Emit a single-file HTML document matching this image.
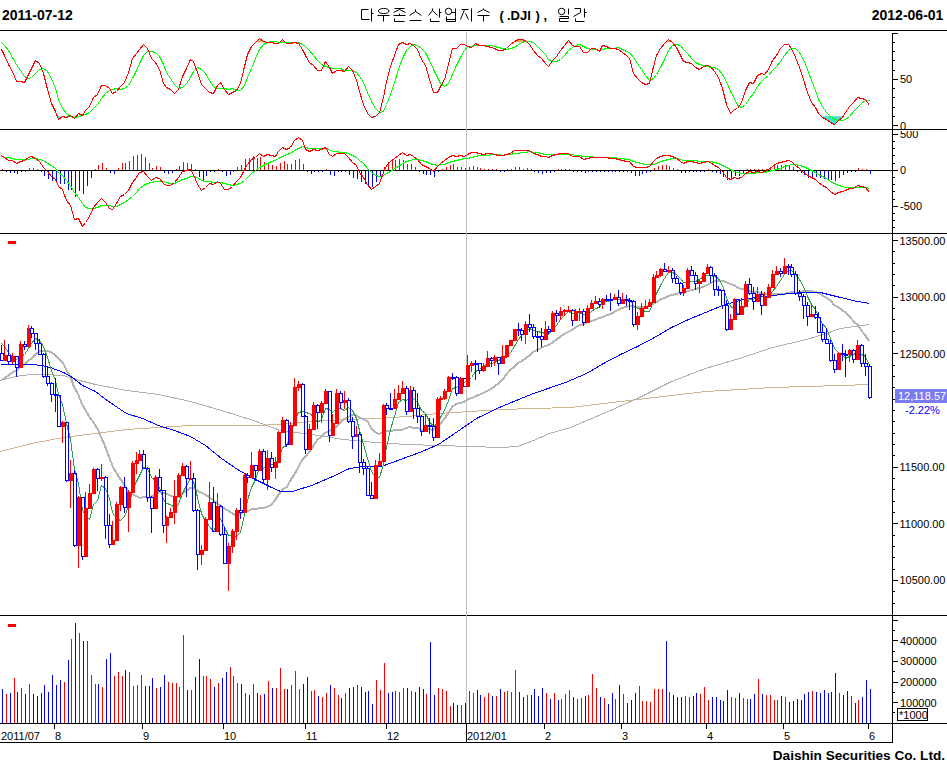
<!DOCTYPE html><html><head><meta charset="utf-8"><style>
html,body{margin:0;padding:0;background:#fff;}
svg{display:block;font-family:"Liberation Sans",sans-serif;}
</style></head><body><svg width="947" height="767" viewBox="0 0 947 767" shape-rendering="crispEdges">
<rect width="947" height="767" fill="#fff"/>
<line x1="0" y1="30.5" x2="947" y2="30.5" stroke="#000" stroke-width="1" /><line x1="0" y1="129.5" x2="947" y2="129.5" stroke="#000" stroke-width="1" /><line x1="0" y1="233.5" x2="947" y2="233.5" stroke="#000" stroke-width="1" /><line x1="0" y1="615.5" x2="947" y2="615.5" stroke="#000" stroke-width="1" /><line x1="0" y1="723.5" x2="947" y2="723.5" stroke="#000" stroke-width="1" /><line x1="0" y1="742.5" x2="892.5" y2="742.5" stroke="#000" stroke-width="1" /><line x1="892.5" y1="33" x2="892.5" y2="743" stroke="#000" stroke-width="1" /><line x1="466.5" y1="32" x2="466.5" y2="723" stroke="#c0c0c0" stroke-width="1" /><text x="2" y="20" font-size="14" fill="#000" text-anchor="start" font-weight="bold" >2011-07-12</text><text x="943.4" y="20" font-size="14" fill="#000" text-anchor="end" font-weight="bold" >2012-06-01</text><text x="945" y="759.5" font-size="13.6" fill="#000" text-anchor="end" font-weight="bold" >Daishin Securities Co. Ltd.</text><polyline points="0.5,451.5 31.5,443.5 63.5,437.5 95.5,433.5 126.5,429.5 158.5,427.5 190.5,425.5 221.5,425.5 253.5,425.5 280.5,424.5 311.5,421.5 343.5,419.5 375.5,418.5 406.5,416.5 438.5,413.5 470.5,411.5 501.5,409.5 533.5,408.5 570.5,407.5 603.5,403.5 637.5,399.5 671.5,395.5 705.5,391.5 739.5,389.5 772.5,387.5 806.5,386.5 840.5,385.5 869.5,384.5" fill="none" stroke="#d2b48c" stroke-width="1" shape-rendering="crispEdges" stroke-linejoin="round" /><polyline points="0.5,380.5 15.5,376.5 31.5,374.5 41.5,374.5 63.5,375.5 79.5,380.5 95.5,384.5 126.5,390.5 158.5,394.5 190.5,401.5 221.5,410.5 253.5,420.5 280.5,430.5 311.5,434.5 343.5,439.5 375.5,442.5 406.5,444.5 438.5,445.5 470.5,446.5 501.5,447.5 517.5,446.5 533.5,440.5 549.5,433.5 570.5,427.5 603.5,413.5 637.5,398.5 671.5,381.5 705.5,368.5 739.5,358.5 772.5,347.5 806.5,339.5 823.5,334.5 840.5,328.5 869.5,324.5" fill="none" stroke="#b0b0b0" stroke-width="1" shape-rendering="crispEdges" stroke-linejoin="round" /><polyline points="1,380 5,378 9,375 13,372 17,370 20,367 24,365 28,361 32,358 36,354 40,351 44,351 47,351 51,352 55,355 59,359 63,363 67,371 71,378 74,387 78,394 82,404 86,411 90,418 94,423 98,430 101,437 105,446 109,457 113,467 117,474 121,480 125,486 128,491 132,494 136,496 140,498 144,497 148,498 152,496 155,495 159,492 163,493 167,494 171,496 175,497 179,497 182,494 186,491 190,488 194,488 198,491 202,493 206,495 209,497 213,500 217,503 221,506 225,509 229,511 233,514 236,515 240,514 244,512 248,511 252,509 256,509 260,508 263,508 267,507 271,505 275,500 279,494 283,489 287,487 290,481 294,475 298,468 302,460 306,456 310,451 314,445 317,440 321,437 325,433 329,431 333,429 337,426 341,422 344,419 348,417 352,415 356,415 360,418 364,419 368,422 371,428 375,432 379,434 383,432 387,431 391,431 395,430 398,430 402,430 406,428 410,427 414,428 418,428 422,430 425,430 429,429 433,430 437,426 441,423 445,418 449,412 452,407 456,404 460,403 464,402 468,399 472,398 476,396 479,395 483,393 487,391 491,389 495,386 499,383 503,379 506,375 510,370 514,367 518,363 522,361 526,358 530,355 533,352 537,350 541,348 545,346 549,345 553,342 557,339 560,337 564,334 568,332 572,330 576,327 580,325 584,324 587,322 591,321 595,320 599,318 603,317 607,315 611,314 614,312 618,310 622,308 626,307 630,306 634,307 638,307 641,307 645,307 649,306 653,304 657,302 661,299 665,298 668,296 672,295 676,294 680,293 684,293 688,291 692,290 696,289 699,288 703,287 707,285 711,283 715,281 719,281 723,281 726,282 730,284 734,285 738,288 742,289 746,290 750,291 753,292 757,292 761,293 765,294 769,295 773,294 777,294 780,294 784,294 788,293 792,292 796,293 800,292 804,291 807,291 811,291 815,292 819,293 823,296 827,298 831,301 834,305 838,307 842,310 846,313 850,317 854,322 858,325 861,330 865,335 869,341" fill="none" stroke="#b4b4b4" stroke-width="2" shape-rendering="crispEdges" stroke-linejoin="round" /><polyline points="0.5,364.5 15.5,364.5 31.5,364.5 41.5,365.5 50.5,367.5 63.5,372.5 72.5,377.5 82.5,385.5 95.5,391.5 104.5,398.5 117.5,407.5 126.5,413.5 142.5,418.5 158.5,425.5 174.5,430.5 190.5,436.5 205.5,445.5 221.5,458.5 237.5,469.5 253.5,478.5 269.5,486.5 280.5,491.5 292.5,491.5 311.5,485.5 330.5,477.5 349.5,468.5 362.5,466.5 381.5,466.5 400.5,459.5 419.5,452.5 438.5,444.5 457.5,431.5 476.5,418.5 501.5,406.5 533.5,393.5 565.5,382.5 586.5,373.5 603.5,363.5 620.5,354.5 637.5,346.5 654.5,337.5 671.5,327.5 688.5,319.5 705.5,312.5 722.5,305.5 739.5,300.5 755.5,297.5 772.5,295.5 789.5,293.5 806.5,292.5 820.5,292.5 840.5,297.5 857.5,301.5 869.5,303.5" fill="none" stroke="#0000ff" stroke-width="1" shape-rendering="crispEdges" stroke-linejoin="round" /><polyline points="1.5,343.5 4.5,346.5 8.5,352.5 12.5,356.5 16.5,359.5 20.5,356.5 24.5,354.5 28.5,348.5 31.5,343.5 35.5,338.5 39.5,340.5 43.5,346.5 47.5,357.5 51.5,370.5 55.5,380.5 58.5,394.5 62.5,404.5 66.5,423.5 70.5,439.5 74.5,469.5 78.5,483.5 82.5,510.5 85.5,515.5 89.5,519.5 93.5,504.5 97.5,500.5 101.5,485.5 105.5,488.5 109.5,498.5 112.5,512.5 116.5,518.5 120.5,520.5 124.5,516.5 128.5,506.5 132.5,490.5 136.5,481.5 139.5,475.5 143.5,467.5 147.5,468.5 151.5,477.5 155.5,480.5 159.5,487.5 163.5,499.5 166.5,503.5 170.5,504.5 174.5,507.5 178.5,504.5 182.5,493.5 186.5,485.5 190.5,478.5 193.5,481.5 197.5,497.5 201.5,513.5 205.5,521.5 209.5,526.5 213.5,531.5 217.5,521.5 220.5,518.5 224.5,527.5 228.5,535.5 232.5,535.5 236.5,536.5 240.5,532.5 244.5,514.5 247.5,500.5 251.5,487.5 255.5,479.5 259.5,467.5 263.5,468.5 267.5,464.5 271.5,464.5 275.5,463.5 278.5,459.5 282.5,447.5 286.5,445.5 290.5,436.5 294.5,421.5 298.5,412.5 302.5,411.5 305.5,412.5 309.5,413.5 313.5,416.5 317.5,422.5 321.5,419.5 325.5,408.5 329.5,409.5 332.5,412.5 336.5,408.5 340.5,408.5 344.5,410.5 348.5,407.5 352.5,410.5 356.5,418.5 359.5,430.5 363.5,444.5 367.5,458.5 371.5,471.5 375.5,477.5 379.5,477.5 383.5,464.5 386.5,447.5 390.5,429.5 394.5,416.5 398.5,402.5 402.5,399.5 406.5,400.5 410.5,396.5 413.5,398.5 417.5,402.5 421.5,410.5 425.5,413.5 429.5,421.5 433.5,426.5 437.5,423.5 440.5,417.5 444.5,410.5 448.5,400.5 452.5,388.5 456.5,387.5 460.5,383.5 464.5,382.5 467.5,380.5 471.5,377.5 475.5,371.5 479.5,369.5 483.5,365.5 487.5,364.5 491.5,363.5 494.5,362.5 498.5,360.5 502.5,358.5 506.5,356.5 510.5,352.5 514.5,346.5 518.5,339.5 521.5,335.5 525.5,331.5 529.5,328.5 533.5,330.5 537.5,331.5 541.5,332.5 545.5,333.5 548.5,334.5 552.5,329.5 556.5,325.5 560.5,319.5 564.5,315.5 568.5,311.5 572.5,313.5 575.5,312.5 579.5,312.5 583.5,314.5 587.5,314.5 591.5,311.5 595.5,308.5 599.5,307.5 602.5,302.5 606.5,301.5 610.5,300.5 614.5,299.5 618.5,299.5 622.5,299.5 626.5,299.5 629.5,299.5 633.5,305.5 637.5,308.5 641.5,309.5 645.5,311.5 649.5,311.5 653.5,301.5 656.5,293.5 660.5,285.5 664.5,278.5 668.5,272.5 672.5,272.5 676.5,274.5 680.5,278.5 683.5,282.5 687.5,282.5 691.5,281.5 695.5,281.5 699.5,279.5 703.5,276.5 707.5,275.5 710.5,275.5 714.5,276.5 718.5,278.5 722.5,285.5 726.5,297.5 730.5,306.5 734.5,308.5 737.5,313.5 741.5,313.5 745.5,304.5 749.5,299.5 753.5,299.5 757.5,295.5 761.5,295.5 764.5,298.5 768.5,296.5 772.5,291.5 776.5,286.5 780.5,280.5 784.5,274.5 788.5,270.5 791.5,270.5 795.5,274.5 799.5,279.5 803.5,286.5 807.5,296.5 811.5,304.5 815.5,309.5 818.5,316.5 822.5,323.5 826.5,328.5 830.5,338.5 834.5,348.5 838.5,352.5 842.5,355.5 845.5,358.5 849.5,356.5 853.5,354.5 857.5,352.5 861.5,354.5 865.5,356.5 869.5,365.5" fill="none" stroke="#30a050" stroke-width="1" shape-rendering="crispEdges" stroke-linejoin="round" /><rect x="1" y="345" width="1" height="8" fill="#0000ff"/><rect x="0.5" y="353.5" width="3" height="7" fill="none" stroke="#0000ff" stroke-width="1"/><rect x="4" y="340" width="1" height="20" fill="#ff0000"/><rect x="3" y="355" width="4" height="6" fill="#ff0000"/><rect x="8" y="344" width="1" height="11" fill="#0000ff"/><rect x="8" y="362" width="1" height="3" fill="#0000ff"/><rect x="7.5" y="355.5" width="3" height="6" fill="none" stroke="#0000ff" stroke-width="1"/><rect x="12" y="353" width="1" height="11" fill="#ff0000"/><rect x="11" y="356" width="4" height="6" fill="#ff0000"/><rect x="16" y="368" width="1" height="9" fill="#0000ff"/><rect x="15.5" y="356.5" width="3" height="11" fill="none" stroke="#0000ff" stroke-width="1"/><rect x="20" y="341" width="1" height="26" fill="#ff0000"/><rect x="19" y="344" width="4" height="24" fill="#ff0000"/><rect x="24" y="341" width="1" height="3" fill="#0000ff"/><rect x="24" y="347" width="1" height="3" fill="#0000ff"/><rect x="23.5" y="344.5" width="3" height="2" fill="none" stroke="#0000ff" stroke-width="1"/><rect x="28" y="325" width="1" height="21" fill="#ff0000"/><rect x="27" y="328" width="4" height="19" fill="#ff0000"/><rect x="31" y="326" width="1" height="2" fill="#0000ff"/><rect x="31" y="334" width="1" height="4" fill="#0000ff"/><rect x="30.5" y="328.5" width="3" height="5" fill="none" stroke="#0000ff" stroke-width="1"/><rect x="35" y="344" width="1" height="6" fill="#0000ff"/><rect x="34.5" y="333.5" width="3" height="10" fill="none" stroke="#0000ff" stroke-width="1"/><rect x="39" y="339" width="1" height="4" fill="#0000ff"/><rect x="38.5" y="343.5" width="3" height="11" fill="none" stroke="#0000ff" stroke-width="1"/><rect x="43" y="353" width="1" height="1" fill="#0000ff"/><rect x="43" y="377" width="1" height="1" fill="#0000ff"/><rect x="42.5" y="354.5" width="3" height="22" fill="none" stroke="#0000ff" stroke-width="1"/><rect x="47" y="366" width="1" height="10" fill="#0000ff"/><rect x="47" y="384" width="1" height="2" fill="#0000ff"/><rect x="46.5" y="376.5" width="3" height="7" fill="none" stroke="#0000ff" stroke-width="1"/><rect x="51" y="382" width="1" height="1" fill="#0000ff"/><rect x="51" y="395" width="1" height="7" fill="#0000ff"/><rect x="50.5" y="383.5" width="3" height="11" fill="none" stroke="#0000ff" stroke-width="1"/><rect x="55" y="378" width="1" height="16" fill="#0000ff"/><rect x="55" y="396" width="1" height="16" fill="#0000ff"/><rect x="54.5" y="394.5" width="3" height="1" fill="none" stroke="#0000ff" stroke-width="1"/><rect x="57.5" y="395.5" width="3" height="31" fill="none" stroke="#0000ff" stroke-width="1"/><rect x="62" y="421" width="1" height="22" fill="#ff0000"/><rect x="61" y="422" width="4" height="5" fill="#ff0000"/><rect x="66" y="481" width="1" height="1" fill="#0000ff"/><rect x="65.5" y="422.5" width="3" height="58" fill="none" stroke="#0000ff" stroke-width="1"/><rect x="70" y="460" width="1" height="48" fill="#ff0000"/><rect x="69" y="473" width="4" height="8" fill="#ff0000"/><rect x="74" y="470" width="1" height="3" fill="#0000ff"/><rect x="74" y="546" width="1" height="1" fill="#0000ff"/><rect x="73.5" y="473.5" width="3" height="72" fill="none" stroke="#0000ff" stroke-width="1"/><rect x="78" y="496" width="1" height="72" fill="#ff0000"/><rect x="77" y="497" width="4" height="49" fill="#ff0000"/><rect x="82" y="557" width="1" height="3" fill="#0000ff"/><rect x="81.5" y="497.5" width="3" height="59" fill="none" stroke="#0000ff" stroke-width="1"/><rect x="85" y="492" width="1" height="64" fill="#ff0000"/><rect x="84" y="508" width="4" height="49" fill="#ff0000"/><rect x="89" y="484" width="1" height="25" fill="#ff0000"/><rect x="88" y="493" width="4" height="16" fill="#ff0000"/><rect x="93" y="468" width="1" height="26" fill="#ff0000"/><rect x="92" y="469" width="4" height="25" fill="#ff0000"/><rect x="97" y="468" width="1" height="1" fill="#0000ff"/><rect x="97" y="479" width="1" height="12" fill="#0000ff"/><rect x="96.5" y="469.5" width="3" height="9" fill="none" stroke="#0000ff" stroke-width="1"/><rect x="101" y="464" width="1" height="17" fill="#ff0000"/><rect x="100" y="477" width="4" height="2" fill="#ff0000"/><rect x="105" y="476" width="1" height="1" fill="#0000ff"/><rect x="105" y="526" width="1" height="13" fill="#0000ff"/><rect x="104.5" y="477.5" width="3" height="48" fill="none" stroke="#0000ff" stroke-width="1"/><rect x="109" y="514" width="1" height="11" fill="#0000ff"/><rect x="109" y="545" width="1" height="3" fill="#0000ff"/><rect x="108.5" y="525.5" width="3" height="19" fill="none" stroke="#0000ff" stroke-width="1"/><rect x="112" y="521" width="1" height="24" fill="#ff0000"/><rect x="111" y="540" width="4" height="5" fill="#ff0000"/><rect x="116" y="502" width="1" height="39" fill="#ff0000"/><rect x="115" y="504" width="4" height="37" fill="#ff0000"/><rect x="120" y="486" width="1" height="25" fill="#ff0000"/><rect x="119" y="487" width="4" height="18" fill="#ff0000"/><rect x="124" y="477" width="1" height="10" fill="#0000ff"/><rect x="124" y="508" width="1" height="5" fill="#0000ff"/><rect x="123.5" y="487.5" width="3" height="20" fill="none" stroke="#0000ff" stroke-width="1"/><rect x="128" y="490" width="1" height="42" fill="#ff0000"/><rect x="127" y="492" width="4" height="16" fill="#ff0000"/><rect x="132" y="461" width="1" height="31" fill="#ff0000"/><rect x="131" y="463" width="4" height="30" fill="#ff0000"/><rect x="136" y="452" width="1" height="22" fill="#ff0000"/><rect x="135" y="460" width="4" height="4" fill="#ff0000"/><rect x="139" y="450" width="1" height="11" fill="#ff0000"/><rect x="138" y="454" width="4" height="7" fill="#ff0000"/><rect x="143" y="450" width="1" height="4" fill="#0000ff"/><rect x="142.5" y="454.5" width="3" height="14" fill="none" stroke="#0000ff" stroke-width="1"/><rect x="147" y="467" width="1" height="1" fill="#0000ff"/><rect x="147" y="498" width="1" height="4" fill="#0000ff"/><rect x="146.5" y="468.5" width="3" height="29" fill="none" stroke="#0000ff" stroke-width="1"/><rect x="151" y="496" width="1" height="1" fill="#0000ff"/><rect x="151" y="509" width="1" height="24" fill="#0000ff"/><rect x="150.5" y="497.5" width="3" height="11" fill="none" stroke="#0000ff" stroke-width="1"/><rect x="155" y="475" width="1" height="34" fill="#ff0000"/><rect x="154" y="477" width="4" height="32" fill="#ff0000"/><rect x="159" y="469" width="1" height="8" fill="#0000ff"/><rect x="159" y="491" width="1" height="1" fill="#0000ff"/><rect x="158.5" y="477.5" width="3" height="13" fill="none" stroke="#0000ff" stroke-width="1"/><rect x="163" y="526" width="1" height="7" fill="#0000ff"/><rect x="162.5" y="490.5" width="3" height="35" fill="none" stroke="#0000ff" stroke-width="1"/><rect x="166" y="516" width="1" height="27" fill="#ff0000"/><rect x="165" y="517" width="4" height="9" fill="#ff0000"/><rect x="170" y="508" width="1" height="10" fill="#ff0000"/><rect x="169" y="512" width="4" height="6" fill="#ff0000"/><rect x="174" y="480" width="1" height="44" fill="#ff0000"/><rect x="173" y="496" width="4" height="17" fill="#ff0000"/><rect x="178" y="473" width="1" height="24" fill="#ff0000"/><rect x="177" y="475" width="4" height="22" fill="#ff0000"/><rect x="182" y="463" width="1" height="12" fill="#ff0000"/><rect x="181" y="466" width="4" height="10" fill="#ff0000"/><rect x="186" y="465" width="1" height="1" fill="#0000ff"/><rect x="186" y="479" width="1" height="18" fill="#0000ff"/><rect x="185.5" y="466.5" width="3" height="12" fill="none" stroke="#0000ff" stroke-width="1"/><rect x="190" y="461" width="1" height="19" fill="#ff0000"/><rect x="189" y="478" width="4" height="2" fill="#ff0000"/><rect x="193" y="473" width="1" height="5" fill="#0000ff"/><rect x="193" y="511" width="1" height="1" fill="#0000ff"/><rect x="192.5" y="478.5" width="3" height="32" fill="none" stroke="#0000ff" stroke-width="1"/><rect x="197" y="509" width="1" height="1" fill="#0000ff"/><rect x="197" y="555" width="1" height="15" fill="#0000ff"/><rect x="196.5" y="510.5" width="3" height="44" fill="none" stroke="#0000ff" stroke-width="1"/><rect x="201" y="545" width="1" height="20" fill="#ff0000"/><rect x="200" y="550" width="4" height="5" fill="#ff0000"/><rect x="205" y="517" width="1" height="33" fill="#ff0000"/><rect x="204" y="519" width="4" height="32" fill="#ff0000"/><rect x="209" y="482" width="1" height="37" fill="#ff0000"/><rect x="208" y="502" width="4" height="18" fill="#ff0000"/><rect x="213" y="487" width="1" height="15" fill="#0000ff"/><rect x="212.5" y="502.5" width="3" height="29" fill="none" stroke="#0000ff" stroke-width="1"/><rect x="217" y="493" width="1" height="38" fill="#ff0000"/><rect x="216" y="506" width="4" height="26" fill="#ff0000"/><rect x="220" y="505" width="1" height="1" fill="#0000ff"/><rect x="220" y="535" width="1" height="1" fill="#0000ff"/><rect x="219.5" y="506.5" width="3" height="28" fill="none" stroke="#0000ff" stroke-width="1"/><rect x="224" y="527" width="1" height="7" fill="#0000ff"/><rect x="223.5" y="534.5" width="3" height="29" fill="none" stroke="#0000ff" stroke-width="1"/><rect x="228" y="543" width="1" height="48" fill="#ff0000"/><rect x="227" y="546" width="4" height="18" fill="#ff0000"/><rect x="232" y="529" width="1" height="24" fill="#ff0000"/><rect x="231" y="531" width="4" height="16" fill="#ff0000"/><rect x="236" y="508" width="1" height="32" fill="#ff0000"/><rect x="235" y="510" width="4" height="22" fill="#ff0000"/><rect x="240" y="498" width="1" height="12" fill="#0000ff"/><rect x="240" y="513" width="1" height="6" fill="#0000ff"/><rect x="239.5" y="510.5" width="3" height="2" fill="none" stroke="#0000ff" stroke-width="1"/><rect x="244" y="473" width="1" height="40" fill="#ff0000"/><rect x="243" y="475" width="4" height="38" fill="#ff0000"/><rect x="247" y="473" width="1" height="2" fill="#0000ff"/><rect x="247" y="478" width="1" height="5" fill="#0000ff"/><rect x="246.5" y="475.5" width="3" height="2" fill="none" stroke="#0000ff" stroke-width="1"/><rect x="251" y="452" width="1" height="25" fill="#ff0000"/><rect x="250" y="465" width="4" height="13" fill="#ff0000"/><rect x="255" y="471" width="1" height="10" fill="#0000ff"/><rect x="254.5" y="465.5" width="3" height="5" fill="none" stroke="#0000ff" stroke-width="1"/><rect x="259" y="449" width="1" height="21" fill="#ff0000"/><rect x="258" y="451" width="4" height="20" fill="#ff0000"/><rect x="263" y="449" width="1" height="2" fill="#0000ff"/><rect x="263" y="480" width="1" height="3" fill="#0000ff"/><rect x="262.5" y="451.5" width="3" height="28" fill="none" stroke="#0000ff" stroke-width="1"/><rect x="267" y="450" width="1" height="40" fill="#ff0000"/><rect x="266" y="458" width="4" height="22" fill="#ff0000"/><rect x="271" y="452" width="1" height="6" fill="#0000ff"/><rect x="271" y="468" width="1" height="4" fill="#0000ff"/><rect x="270.5" y="458.5" width="3" height="9" fill="none" stroke="#0000ff" stroke-width="1"/><rect x="275" y="457" width="1" height="22" fill="#ff0000"/><rect x="274" y="462" width="4" height="6" fill="#ff0000"/><rect x="278" y="431" width="1" height="32" fill="#ff0000"/><rect x="277" y="432" width="4" height="31" fill="#ff0000"/><rect x="282" y="417" width="1" height="16" fill="#ff0000"/><rect x="281" y="420" width="4" height="13" fill="#ff0000"/><rect x="286" y="419" width="1" height="1" fill="#0000ff"/><rect x="286" y="445" width="1" height="2" fill="#0000ff"/><rect x="285.5" y="420.5" width="3" height="24" fill="none" stroke="#0000ff" stroke-width="1"/><rect x="290" y="422" width="1" height="22" fill="#ff0000"/><rect x="289" y="425" width="4" height="20" fill="#ff0000"/><rect x="294" y="378" width="1" height="47" fill="#ff0000"/><rect x="293" y="387" width="4" height="39" fill="#ff0000"/><rect x="298" y="381" width="1" height="10" fill="#ff0000"/><rect x="297" y="384" width="4" height="4" fill="#ff0000"/><rect x="302" y="383" width="1" height="1" fill="#0000ff"/><rect x="301.5" y="384.5" width="3" height="32" fill="none" stroke="#0000ff" stroke-width="1"/><rect x="305" y="415" width="1" height="1" fill="#0000ff"/><rect x="305" y="450" width="1" height="4" fill="#0000ff"/><rect x="304.5" y="416.5" width="3" height="33" fill="none" stroke="#0000ff" stroke-width="1"/><rect x="309" y="424" width="1" height="26" fill="#ff0000"/><rect x="308" y="429" width="4" height="21" fill="#ff0000"/><rect x="313" y="402" width="1" height="28" fill="#ff0000"/><rect x="312" y="405" width="4" height="25" fill="#ff0000"/><rect x="317" y="404" width="1" height="1" fill="#0000ff"/><rect x="317" y="413" width="1" height="16" fill="#0000ff"/><rect x="316.5" y="405.5" width="3" height="7" fill="none" stroke="#0000ff" stroke-width="1"/><rect x="321" y="401" width="1" height="22" fill="#ff0000"/><rect x="320" y="403" width="4" height="10" fill="#ff0000"/><rect x="325" y="389" width="1" height="15" fill="#ff0000"/><rect x="324" y="391" width="4" height="13" fill="#ff0000"/><rect x="329" y="436" width="1" height="6" fill="#0000ff"/><rect x="328.5" y="391.5" width="3" height="44" fill="none" stroke="#0000ff" stroke-width="1"/><rect x="332" y="414" width="1" height="22" fill="#ff0000"/><rect x="331" y="423" width="4" height="13" fill="#ff0000"/><rect x="336" y="389" width="1" height="34" fill="#ff0000"/><rect x="335" y="393" width="4" height="31" fill="#ff0000"/><rect x="340" y="391" width="1" height="2" fill="#0000ff"/><rect x="340" y="403" width="1" height="6" fill="#0000ff"/><rect x="339.5" y="393.5" width="3" height="9" fill="none" stroke="#0000ff" stroke-width="1"/><rect x="344" y="391" width="1" height="18" fill="#ff0000"/><rect x="343" y="400" width="4" height="3" fill="#ff0000"/><rect x="348" y="398" width="1" height="2" fill="#0000ff"/><rect x="348" y="422" width="1" height="1" fill="#0000ff"/><rect x="347.5" y="400.5" width="3" height="21" fill="none" stroke="#0000ff" stroke-width="1"/><rect x="352" y="417" width="1" height="4" fill="#0000ff"/><rect x="352" y="437" width="1" height="12" fill="#0000ff"/><rect x="351.5" y="421.5" width="3" height="15" fill="none" stroke="#0000ff" stroke-width="1"/><rect x="356" y="426" width="1" height="11" fill="#ff0000"/><rect x="355" y="434" width="4" height="3" fill="#ff0000"/><rect x="359" y="432" width="1" height="2" fill="#0000ff"/><rect x="359" y="463" width="1" height="10" fill="#0000ff"/><rect x="358.5" y="434.5" width="3" height="28" fill="none" stroke="#0000ff" stroke-width="1"/><rect x="363" y="459" width="1" height="3" fill="#0000ff"/><rect x="363" y="469" width="1" height="6" fill="#0000ff"/><rect x="362.5" y="462.5" width="3" height="6" fill="none" stroke="#0000ff" stroke-width="1"/><rect x="367" y="466" width="1" height="2" fill="#0000ff"/><rect x="366.5" y="468.5" width="3" height="27" fill="none" stroke="#0000ff" stroke-width="1"/><rect x="371" y="482" width="1" height="13" fill="#0000ff"/><rect x="370.5" y="495.5" width="3" height="3" fill="none" stroke="#0000ff" stroke-width="1"/><rect x="375" y="460" width="1" height="38" fill="#ff0000"/><rect x="374" y="465" width="4" height="34" fill="#ff0000"/><rect x="379" y="453" width="1" height="12" fill="#ff0000"/><rect x="378" y="461" width="4" height="5" fill="#ff0000"/><rect x="383" y="404" width="1" height="57" fill="#ff0000"/><rect x="382" y="405" width="4" height="57" fill="#ff0000"/><rect x="386" y="403" width="1" height="2" fill="#0000ff"/><rect x="386" y="409" width="1" height="6" fill="#0000ff"/><rect x="385.5" y="405.5" width="3" height="3" fill="none" stroke="#0000ff" stroke-width="1"/><rect x="390" y="393" width="1" height="15" fill="#0000ff"/><rect x="389.5" y="408.5" width="3" height="1" fill="none" stroke="#0000ff" stroke-width="1"/><rect x="394" y="389" width="1" height="20" fill="#ff0000"/><rect x="393" y="399" width="4" height="10" fill="#ff0000"/><rect x="398" y="385" width="1" height="15" fill="#ff0000"/><rect x="397" y="393" width="4" height="7" fill="#ff0000"/><rect x="402" y="381" width="1" height="13" fill="#ff0000"/><rect x="401" y="388" width="4" height="6" fill="#ff0000"/><rect x="406" y="386" width="1" height="2" fill="#0000ff"/><rect x="406" y="412" width="1" height="3" fill="#0000ff"/><rect x="405.5" y="388.5" width="3" height="23" fill="none" stroke="#0000ff" stroke-width="1"/><rect x="410" y="386" width="1" height="25" fill="#ff0000"/><rect x="409" y="390" width="4" height="22" fill="#ff0000"/><rect x="413" y="387" width="1" height="3" fill="#0000ff"/><rect x="413" y="409" width="1" height="10" fill="#0000ff"/><rect x="412.5" y="390.5" width="3" height="18" fill="none" stroke="#0000ff" stroke-width="1"/><rect x="417" y="393" width="1" height="15" fill="#0000ff"/><rect x="417" y="417" width="1" height="6" fill="#0000ff"/><rect x="416.5" y="408.5" width="3" height="8" fill="none" stroke="#0000ff" stroke-width="1"/><rect x="421" y="415" width="1" height="1" fill="#0000ff"/><rect x="421" y="432" width="1" height="4" fill="#0000ff"/><rect x="420.5" y="416.5" width="3" height="15" fill="none" stroke="#0000ff" stroke-width="1"/><rect x="425" y="414" width="1" height="17" fill="#ff0000"/><rect x="424" y="425" width="4" height="7" fill="#ff0000"/><rect x="429" y="418" width="1" height="7" fill="#0000ff"/><rect x="429" y="427" width="1" height="7" fill="#0000ff"/><rect x="428.5" y="425.5" width="3" height="1" fill="none" stroke="#0000ff" stroke-width="1"/><rect x="433" y="418" width="1" height="8" fill="#0000ff"/><rect x="433" y="438" width="1" height="3" fill="#0000ff"/><rect x="432.5" y="426.5" width="3" height="11" fill="none" stroke="#0000ff" stroke-width="1"/><rect x="437" y="397" width="1" height="40" fill="#ff0000"/><rect x="436" y="399" width="4" height="39" fill="#ff0000"/><rect x="440" y="396" width="1" height="14" fill="#ff0000"/><rect x="439" y="398" width="4" height="2" fill="#ff0000"/><rect x="444" y="389" width="1" height="11" fill="#ff0000"/><rect x="443" y="391" width="4" height="8" fill="#ff0000"/><rect x="448" y="376" width="1" height="15" fill="#ff0000"/><rect x="447" y="377" width="4" height="15" fill="#ff0000"/><rect x="452" y="373" width="1" height="4" fill="#0000ff"/><rect x="452" y="379" width="1" height="1" fill="#0000ff"/><rect x="451.5" y="377.5" width="3" height="1" fill="none" stroke="#0000ff" stroke-width="1"/><rect x="456" y="376" width="1" height="1" fill="#0000ff"/><rect x="456" y="394" width="1" height="2" fill="#0000ff"/><rect x="455.5" y="377.5" width="3" height="16" fill="none" stroke="#0000ff" stroke-width="1"/><rect x="460" y="377" width="1" height="17" fill="#ff0000"/><rect x="459" y="378" width="4" height="16" fill="#ff0000"/><rect x="463.5" y="378.5" width="3" height="8" fill="none" stroke="#0000ff" stroke-width="1"/><rect x="467" y="355" width="1" height="31" fill="#ff0000"/><rect x="466" y="365" width="4" height="22" fill="#ff0000"/><rect x="471" y="361" width="1" height="11" fill="#ff0000"/><rect x="470" y="363" width="4" height="3" fill="#ff0000"/><rect x="475" y="360" width="1" height="3" fill="#0000ff"/><rect x="475" y="365" width="1" height="15" fill="#0000ff"/><rect x="474.5" y="363.5" width="3" height="1" fill="none" stroke="#0000ff" stroke-width="1"/><rect x="479" y="371" width="1" height="3" fill="#0000ff"/><rect x="478.5" y="363.5" width="3" height="7" fill="none" stroke="#0000ff" stroke-width="1"/><rect x="483" y="363" width="1" height="9" fill="#ff0000"/><rect x="482" y="366" width="4" height="5" fill="#ff0000"/><rect x="487" y="351" width="1" height="15" fill="#ff0000"/><rect x="486" y="358" width="4" height="9" fill="#ff0000"/><rect x="491" y="357" width="1" height="1" fill="#0000ff"/><rect x="491" y="361" width="1" height="6" fill="#0000ff"/><rect x="490.5" y="358.5" width="3" height="2" fill="none" stroke="#0000ff" stroke-width="1"/><rect x="494" y="355" width="1" height="11" fill="#ff0000"/><rect x="493" y="357" width="4" height="4" fill="#ff0000"/><rect x="498" y="364" width="1" height="11" fill="#0000ff"/><rect x="497.5" y="357.5" width="3" height="6" fill="none" stroke="#0000ff" stroke-width="1"/><rect x="502" y="345" width="1" height="18" fill="#ff0000"/><rect x="501" y="356" width="4" height="8" fill="#ff0000"/><rect x="506" y="345" width="1" height="13" fill="#ff0000"/><rect x="505" y="345" width="4" height="12" fill="#ff0000"/><rect x="510" y="340" width="1" height="6" fill="#ff0000"/><rect x="509" y="340" width="4" height="6" fill="#ff0000"/><rect x="514" y="329" width="1" height="12" fill="#ff0000"/><rect x="513" y="329" width="4" height="12" fill="#ff0000"/><rect x="518" y="323" width="1" height="6" fill="#0000ff"/><rect x="518" y="331" width="1" height="5" fill="#0000ff"/><rect x="517.5" y="329.5" width="3" height="1" fill="none" stroke="#0000ff" stroke-width="1"/><rect x="521" y="328" width="1" height="2" fill="#0000ff"/><rect x="521" y="335" width="1" height="6" fill="#0000ff"/><rect x="520.5" y="330.5" width="3" height="4" fill="none" stroke="#0000ff" stroke-width="1"/><rect x="525" y="321" width="1" height="23" fill="#ff0000"/><rect x="524" y="324" width="4" height="11" fill="#ff0000"/><rect x="529" y="314" width="1" height="10" fill="#0000ff"/><rect x="529" y="328" width="1" height="4" fill="#0000ff"/><rect x="528.5" y="324.5" width="3" height="3" fill="none" stroke="#0000ff" stroke-width="1"/><rect x="533" y="324" width="1" height="3" fill="#0000ff"/><rect x="533" y="337" width="1" height="2" fill="#0000ff"/><rect x="532.5" y="327.5" width="3" height="9" fill="none" stroke="#0000ff" stroke-width="1"/><rect x="537" y="331" width="1" height="5" fill="#0000ff"/><rect x="537" y="338" width="1" height="14" fill="#0000ff"/><rect x="536.5" y="336.5" width="3" height="1" fill="none" stroke="#0000ff" stroke-width="1"/><rect x="541" y="328" width="1" height="8" fill="#0000ff"/><rect x="541" y="340" width="1" height="7" fill="#0000ff"/><rect x="540.5" y="336.5" width="3" height="3" fill="none" stroke="#0000ff" stroke-width="1"/><rect x="545" y="321" width="1" height="18" fill="#ff0000"/><rect x="544" y="329" width="4" height="11" fill="#ff0000"/><rect x="548" y="326" width="1" height="3" fill="#0000ff"/><rect x="548" y="332" width="1" height="2" fill="#0000ff"/><rect x="547.5" y="329.5" width="3" height="2" fill="none" stroke="#0000ff" stroke-width="1"/><rect x="552" y="311" width="1" height="20" fill="#ff0000"/><rect x="551" y="313" width="4" height="19" fill="#ff0000"/><rect x="556" y="310" width="1" height="3" fill="#0000ff"/><rect x="556" y="316" width="1" height="6" fill="#0000ff"/><rect x="555.5" y="313.5" width="3" height="2" fill="none" stroke="#0000ff" stroke-width="1"/><rect x="560" y="307" width="1" height="13" fill="#ff0000"/><rect x="559" y="311" width="4" height="5" fill="#ff0000"/><rect x="564" y="309" width="1" height="7" fill="#ff0000"/><rect x="563" y="310" width="4" height="2" fill="#ff0000"/><rect x="568" y="306" width="1" height="6" fill="#ff0000"/><rect x="567" y="310" width="4" height="2" fill="#ff0000"/><rect x="572" y="309" width="1" height="1" fill="#0000ff"/><rect x="572" y="321" width="1" height="5" fill="#0000ff"/><rect x="571.5" y="310.5" width="3" height="10" fill="none" stroke="#0000ff" stroke-width="1"/><rect x="575" y="309" width="1" height="11" fill="#ff0000"/><rect x="574" y="311" width="4" height="10" fill="#ff0000"/><rect x="579" y="308" width="1" height="13" fill="#ff0000"/><rect x="578" y="311" width="4" height="2" fill="#ff0000"/><rect x="583" y="309" width="1" height="2" fill="#0000ff"/><rect x="583" y="323" width="1" height="3" fill="#0000ff"/><rect x="582.5" y="311.5" width="3" height="11" fill="none" stroke="#0000ff" stroke-width="1"/><rect x="587" y="305" width="1" height="17" fill="#ff0000"/><rect x="586" y="308" width="4" height="15" fill="#ff0000"/><rect x="591" y="300" width="1" height="8" fill="#ff0000"/><rect x="590" y="303" width="4" height="6" fill="#ff0000"/><rect x="595" y="296" width="1" height="7" fill="#ff0000"/><rect x="594" y="301" width="4" height="3" fill="#ff0000"/><rect x="599" y="298" width="1" height="3" fill="#0000ff"/><rect x="599" y="305" width="1" height="3" fill="#0000ff"/><rect x="598.5" y="301.5" width="3" height="3" fill="none" stroke="#0000ff" stroke-width="1"/><rect x="602" y="298" width="1" height="11" fill="#ff0000"/><rect x="601" y="299" width="4" height="6" fill="#ff0000"/><rect x="606" y="295" width="1" height="4" fill="#0000ff"/><rect x="605.5" y="299.5" width="3" height="1" fill="none" stroke="#0000ff" stroke-width="1"/><rect x="610" y="293" width="1" height="6" fill="#0000ff"/><rect x="610" y="301" width="1" height="10" fill="#0000ff"/><rect x="609.5" y="299.5" width="3" height="1" fill="none" stroke="#0000ff" stroke-width="1"/><rect x="614" y="294" width="1" height="6" fill="#ff0000"/><rect x="613" y="297" width="4" height="3" fill="#ff0000"/><rect x="618" y="290" width="1" height="7" fill="#0000ff"/><rect x="618" y="304" width="1" height="2" fill="#0000ff"/><rect x="617.5" y="297.5" width="3" height="6" fill="none" stroke="#0000ff" stroke-width="1"/><rect x="622" y="293" width="1" height="10" fill="#ff0000"/><rect x="621" y="299" width="4" height="5" fill="#ff0000"/><rect x="626" y="295" width="1" height="4" fill="#0000ff"/><rect x="626" y="301" width="1" height="5" fill="#0000ff"/><rect x="625.5" y="299.5" width="3" height="1" fill="none" stroke="#0000ff" stroke-width="1"/><rect x="629" y="298" width="1" height="2" fill="#0000ff"/><rect x="629" y="302" width="1" height="8" fill="#0000ff"/><rect x="628.5" y="300.5" width="3" height="1" fill="none" stroke="#0000ff" stroke-width="1"/><rect x="633" y="300" width="1" height="1" fill="#0000ff"/><rect x="633" y="325" width="1" height="2" fill="#0000ff"/><rect x="632.5" y="301.5" width="3" height="23" fill="none" stroke="#0000ff" stroke-width="1"/><rect x="637" y="312" width="1" height="18" fill="#ff0000"/><rect x="636" y="316" width="4" height="9" fill="#ff0000"/><rect x="641" y="303" width="1" height="13" fill="#ff0000"/><rect x="640" y="308" width="4" height="9" fill="#ff0000"/><rect x="645" y="300" width="1" height="8" fill="#ff0000"/><rect x="644" y="306" width="4" height="3" fill="#ff0000"/><rect x="649" y="299" width="1" height="7" fill="#ff0000"/><rect x="648" y="302" width="4" height="5" fill="#ff0000"/><rect x="653" y="274" width="1" height="29" fill="#ff0000"/><rect x="652" y="277" width="4" height="26" fill="#ff0000"/><rect x="656" y="271" width="1" height="6" fill="#ff0000"/><rect x="655" y="275" width="4" height="3" fill="#ff0000"/><rect x="660" y="268" width="1" height="9" fill="#ff0000"/><rect x="659" y="269" width="4" height="7" fill="#ff0000"/><rect x="664" y="263" width="1" height="6" fill="#0000ff"/><rect x="663.5" y="269.5" width="3" height="2" fill="none" stroke="#0000ff" stroke-width="1"/><rect x="668" y="266" width="1" height="7" fill="#ff0000"/><rect x="667" y="270" width="4" height="2" fill="#ff0000"/><rect x="672" y="268" width="1" height="2" fill="#0000ff"/><rect x="672" y="279" width="1" height="4" fill="#0000ff"/><rect x="671.5" y="270.5" width="3" height="8" fill="none" stroke="#0000ff" stroke-width="1"/><rect x="676" y="276" width="1" height="2" fill="#0000ff"/><rect x="675.5" y="278.5" width="3" height="5" fill="none" stroke="#0000ff" stroke-width="1"/><rect x="680" y="282" width="1" height="1" fill="#0000ff"/><rect x="680" y="293" width="1" height="2" fill="#0000ff"/><rect x="679.5" y="283.5" width="3" height="9" fill="none" stroke="#0000ff" stroke-width="1"/><rect x="683" y="285" width="1" height="11" fill="#ff0000"/><rect x="682" y="288" width="4" height="5" fill="#ff0000"/><rect x="687" y="268" width="1" height="21" fill="#ff0000"/><rect x="686" y="270" width="4" height="19" fill="#ff0000"/><rect x="691" y="266" width="1" height="4" fill="#0000ff"/><rect x="690.5" y="270.5" width="3" height="5" fill="none" stroke="#0000ff" stroke-width="1"/><rect x="695" y="272" width="1" height="3" fill="#0000ff"/><rect x="695" y="284" width="1" height="6" fill="#0000ff"/><rect x="694.5" y="275.5" width="3" height="8" fill="none" stroke="#0000ff" stroke-width="1"/><rect x="699" y="279" width="1" height="14" fill="#ff0000"/><rect x="698" y="281" width="4" height="3" fill="#ff0000"/><rect x="703" y="272" width="1" height="10" fill="#ff0000"/><rect x="702" y="273" width="4" height="9" fill="#ff0000"/><rect x="707" y="264" width="1" height="9" fill="#ff0000"/><rect x="706" y="267" width="4" height="7" fill="#ff0000"/><rect x="710" y="266" width="1" height="1" fill="#0000ff"/><rect x="710" y="276" width="1" height="7" fill="#0000ff"/><rect x="709.5" y="267.5" width="3" height="8" fill="none" stroke="#0000ff" stroke-width="1"/><rect x="714" y="273" width="1" height="2" fill="#0000ff"/><rect x="714" y="290" width="1" height="6" fill="#0000ff"/><rect x="713.5" y="275.5" width="3" height="14" fill="none" stroke="#0000ff" stroke-width="1"/><rect x="718" y="286" width="1" height="3" fill="#0000ff"/><rect x="718" y="291" width="1" height="5" fill="#0000ff"/><rect x="717.5" y="289.5" width="3" height="1" fill="none" stroke="#0000ff" stroke-width="1"/><rect x="722" y="306" width="1" height="3" fill="#0000ff"/><rect x="721.5" y="290.5" width="3" height="15" fill="none" stroke="#0000ff" stroke-width="1"/><rect x="726" y="300" width="1" height="5" fill="#0000ff"/><rect x="726" y="330" width="1" height="1" fill="#0000ff"/><rect x="725.5" y="305.5" width="3" height="24" fill="none" stroke="#0000ff" stroke-width="1"/><rect x="730" y="314" width="1" height="16" fill="#ff0000"/><rect x="729" y="319" width="4" height="11" fill="#ff0000"/><rect x="734" y="298" width="1" height="21" fill="#ff0000"/><rect x="733" y="299" width="4" height="21" fill="#ff0000"/><rect x="736.5" y="299.5" width="3" height="15" fill="none" stroke="#0000ff" stroke-width="1"/><rect x="741" y="298" width="1" height="16" fill="#ff0000"/><rect x="740" y="306" width="4" height="9" fill="#ff0000"/><rect x="745" y="281" width="1" height="25" fill="#ff0000"/><rect x="744" y="284" width="4" height="23" fill="#ff0000"/><rect x="749" y="278" width="1" height="6" fill="#0000ff"/><rect x="749" y="294" width="1" height="1" fill="#0000ff"/><rect x="748.5" y="284.5" width="3" height="9" fill="none" stroke="#0000ff" stroke-width="1"/><rect x="753" y="287" width="1" height="6" fill="#0000ff"/><rect x="753" y="302" width="1" height="8" fill="#0000ff"/><rect x="752.5" y="293.5" width="3" height="8" fill="none" stroke="#0000ff" stroke-width="1"/><rect x="757" y="287" width="1" height="14" fill="#ff0000"/><rect x="756" y="294" width="4" height="8" fill="#ff0000"/><rect x="761" y="291" width="1" height="3" fill="#0000ff"/><rect x="761" y="306" width="1" height="9" fill="#0000ff"/><rect x="760.5" y="294.5" width="3" height="11" fill="none" stroke="#0000ff" stroke-width="1"/><rect x="764" y="292" width="1" height="14" fill="#ff0000"/><rect x="763" y="297" width="4" height="9" fill="#ff0000"/><rect x="768" y="284" width="1" height="14" fill="#ff0000"/><rect x="767" y="287" width="4" height="11" fill="#ff0000"/><rect x="772" y="270" width="1" height="17" fill="#ff0000"/><rect x="771" y="274" width="4" height="14" fill="#ff0000"/><rect x="776" y="266" width="1" height="8" fill="#ff0000"/><rect x="775" y="271" width="4" height="4" fill="#ff0000"/><rect x="780" y="268" width="1" height="3" fill="#0000ff"/><rect x="780" y="274" width="1" height="3" fill="#0000ff"/><rect x="779.5" y="271.5" width="3" height="2" fill="none" stroke="#0000ff" stroke-width="1"/><rect x="784" y="258" width="1" height="15" fill="#ff0000"/><rect x="783" y="266" width="4" height="8" fill="#ff0000"/><rect x="788" y="264" width="1" height="2" fill="#0000ff"/><rect x="788" y="268" width="1" height="7" fill="#0000ff"/><rect x="787.5" y="266.5" width="3" height="1" fill="none" stroke="#0000ff" stroke-width="1"/><rect x="791" y="264" width="1" height="3" fill="#0000ff"/><rect x="791" y="275" width="1" height="2" fill="#0000ff"/><rect x="790.5" y="267.5" width="3" height="7" fill="none" stroke="#0000ff" stroke-width="1"/><rect x="795" y="271" width="1" height="3" fill="#0000ff"/><rect x="795" y="294" width="1" height="1" fill="#0000ff"/><rect x="794.5" y="274.5" width="3" height="19" fill="none" stroke="#0000ff" stroke-width="1"/><rect x="799" y="290" width="1" height="3" fill="#0000ff"/><rect x="799" y="297" width="1" height="4" fill="#0000ff"/><rect x="798.5" y="293.5" width="3" height="3" fill="none" stroke="#0000ff" stroke-width="1"/><rect x="803" y="294" width="1" height="2" fill="#0000ff"/><rect x="803" y="306" width="1" height="13" fill="#0000ff"/><rect x="802.5" y="296.5" width="3" height="9" fill="none" stroke="#0000ff" stroke-width="1"/><rect x="807" y="302" width="1" height="3" fill="#0000ff"/><rect x="807" y="317" width="1" height="9" fill="#0000ff"/><rect x="806.5" y="305.5" width="3" height="11" fill="none" stroke="#0000ff" stroke-width="1"/><rect x="811" y="304" width="1" height="12" fill="#ff0000"/><rect x="810" y="314" width="4" height="3" fill="#ff0000"/><rect x="815" y="306" width="1" height="8" fill="#0000ff"/><rect x="815" y="318" width="1" height="1" fill="#0000ff"/><rect x="814.5" y="314.5" width="3" height="3" fill="none" stroke="#0000ff" stroke-width="1"/><rect x="818" y="312" width="1" height="5" fill="#0000ff"/><rect x="817.5" y="317.5" width="3" height="15" fill="none" stroke="#0000ff" stroke-width="1"/><rect x="822" y="324" width="1" height="8" fill="#0000ff"/><rect x="822" y="340" width="1" height="2" fill="#0000ff"/><rect x="821.5" y="332.5" width="3" height="7" fill="none" stroke="#0000ff" stroke-width="1"/><rect x="826" y="328" width="1" height="11" fill="#0000ff"/><rect x="825.5" y="339.5" width="3" height="4" fill="none" stroke="#0000ff" stroke-width="1"/><rect x="830" y="340" width="1" height="3" fill="#0000ff"/><rect x="830" y="361" width="1" height="1" fill="#0000ff"/><rect x="829.5" y="343.5" width="3" height="17" fill="none" stroke="#0000ff" stroke-width="1"/><rect x="834" y="354" width="1" height="6" fill="#0000ff"/><rect x="834" y="370" width="1" height="3" fill="#0000ff"/><rect x="833.5" y="360.5" width="3" height="9" fill="none" stroke="#0000ff" stroke-width="1"/><rect x="838" y="352" width="1" height="17" fill="#ff0000"/><rect x="837" y="353" width="4" height="17" fill="#ff0000"/><rect x="842" y="344" width="1" height="9" fill="#0000ff"/><rect x="842" y="355" width="1" height="6" fill="#0000ff"/><rect x="841.5" y="353.5" width="3" height="1" fill="none" stroke="#0000ff" stroke-width="1"/><rect x="845" y="350" width="1" height="4" fill="#0000ff"/><rect x="845" y="356" width="1" height="21" fill="#0000ff"/><rect x="844.5" y="354.5" width="3" height="1" fill="none" stroke="#0000ff" stroke-width="1"/><rect x="849" y="349" width="1" height="13" fill="#ff0000"/><rect x="848" y="350" width="4" height="5" fill="#ff0000"/><rect x="853" y="349" width="1" height="1" fill="#0000ff"/><rect x="853" y="360" width="1" height="3" fill="#0000ff"/><rect x="852.5" y="350.5" width="3" height="9" fill="none" stroke="#0000ff" stroke-width="1"/><rect x="857" y="340" width="1" height="19" fill="#ff0000"/><rect x="856" y="345" width="4" height="15" fill="#ff0000"/><rect x="861" y="344" width="1" height="1" fill="#0000ff"/><rect x="861" y="364" width="1" height="3" fill="#0000ff"/><rect x="860.5" y="345.5" width="3" height="18" fill="none" stroke="#0000ff" stroke-width="1"/><rect x="865" y="354" width="1" height="9" fill="#0000ff"/><rect x="865" y="367" width="1" height="9" fill="#0000ff"/><rect x="864.5" y="363.5" width="3" height="3" fill="none" stroke="#0000ff" stroke-width="1"/><rect x="869" y="364" width="1" height="2" fill="#0000ff"/><rect x="869" y="398" width="1" height="1" fill="#0000ff"/><rect x="868.5" y="366.5" width="3" height="31" fill="none" stroke="#0000ff" stroke-width="1"/><rect x="2" y="689" width="1" height="34" fill="#0000ff"/><rect x="6" y="694" width="1" height="29" fill="#ff0000"/><rect x="10" y="693" width="1" height="30" fill="#0000ff"/><rect x="14" y="678" width="1" height="45" fill="#ff0000"/><rect x="17" y="692" width="1" height="31" fill="#0000ff"/><rect x="21" y="688" width="1" height="35" fill="#ff0000"/><rect x="25" y="694" width="1" height="29" fill="#0000ff"/><rect x="29" y="684" width="1" height="39" fill="#ff0000"/><rect x="33" y="694" width="1" height="29" fill="#0000ff"/><rect x="37" y="696" width="1" height="27" fill="#0000ff"/><rect x="41" y="693" width="1" height="30" fill="#0000ff"/><rect x="44" y="685" width="1" height="38" fill="#0000ff"/><rect x="48" y="692" width="1" height="31" fill="#0000ff"/><rect x="52" y="675" width="1" height="48" fill="#0000ff"/><rect x="56" y="685" width="1" height="38" fill="#0000ff"/><rect x="60" y="680" width="1" height="43" fill="#0000ff"/><rect x="64" y="682" width="1" height="41" fill="#ff0000"/><rect x="68" y="660" width="1" height="63" fill="#0000ff"/><rect x="71" y="639" width="1" height="84" fill="#ff0000"/><rect x="75" y="623" width="1" height="100" fill="#0000ff"/><rect x="79" y="633" width="1" height="90" fill="#ff0000"/><rect x="83" y="641" width="1" height="82" fill="#0000ff"/><rect x="87" y="641" width="1" height="82" fill="#ff0000"/><rect x="91" y="675" width="1" height="48" fill="#ff0000"/><rect x="95" y="684" width="1" height="39" fill="#ff0000"/><rect x="98" y="684" width="1" height="39" fill="#0000ff"/><rect x="102" y="687" width="1" height="36" fill="#ff0000"/><rect x="106" y="659" width="1" height="64" fill="#0000ff"/><rect x="110" y="653" width="1" height="70" fill="#0000ff"/><rect x="114" y="676" width="1" height="47" fill="#ff0000"/><rect x="118" y="672" width="1" height="51" fill="#ff0000"/><rect x="122" y="676" width="1" height="47" fill="#ff0000"/><rect x="125" y="670" width="1" height="53" fill="#0000ff"/><rect x="129" y="672" width="1" height="51" fill="#ff0000"/><rect x="133" y="686" width="1" height="37" fill="#ff0000"/><rect x="137" y="685" width="1" height="38" fill="#ff0000"/><rect x="141" y="675" width="1" height="48" fill="#ff0000"/><rect x="145" y="686" width="1" height="37" fill="#0000ff"/><rect x="149" y="686" width="1" height="37" fill="#0000ff"/><rect x="152" y="678" width="1" height="45" fill="#0000ff"/><rect x="156" y="688" width="1" height="35" fill="#ff0000"/><rect x="160" y="687" width="1" height="36" fill="#0000ff"/><rect x="164" y="675" width="1" height="48" fill="#0000ff"/><rect x="168" y="682" width="1" height="41" fill="#ff0000"/><rect x="172" y="683" width="1" height="40" fill="#ff0000"/><rect x="176" y="683" width="1" height="40" fill="#ff0000"/><rect x="179" y="687" width="1" height="36" fill="#ff0000"/><rect x="183" y="635" width="1" height="88" fill="#ff0000"/><rect x="187" y="690" width="1" height="33" fill="#0000ff"/><rect x="191" y="690" width="1" height="33" fill="#ff0000"/><rect x="195" y="677" width="1" height="46" fill="#0000ff"/><rect x="199" y="659" width="1" height="64" fill="#0000ff"/><rect x="203" y="676" width="1" height="47" fill="#ff0000"/><rect x="206" y="676" width="1" height="47" fill="#ff0000"/><rect x="210" y="679" width="1" height="44" fill="#ff0000"/><rect x="214" y="687" width="1" height="36" fill="#0000ff"/><rect x="218" y="683" width="1" height="40" fill="#ff0000"/><rect x="222" y="678" width="1" height="45" fill="#0000ff"/><rect x="226" y="672" width="1" height="51" fill="#0000ff"/><rect x="230" y="667" width="1" height="56" fill="#ff0000"/><rect x="233" y="676" width="1" height="47" fill="#ff0000"/><rect x="237" y="683" width="1" height="40" fill="#ff0000"/><rect x="241" y="684" width="1" height="39" fill="#0000ff"/><rect x="245" y="693" width="1" height="30" fill="#ff0000"/><rect x="249" y="695" width="1" height="28" fill="#0000ff"/><rect x="253" y="684" width="1" height="39" fill="#ff0000"/><rect x="257" y="693" width="1" height="30" fill="#0000ff"/><rect x="260" y="695" width="1" height="28" fill="#ff0000"/><rect x="264" y="694" width="1" height="29" fill="#0000ff"/><rect x="268" y="681" width="1" height="42" fill="#ff0000"/><rect x="272" y="688" width="1" height="35" fill="#0000ff"/><rect x="276" y="688" width="1" height="35" fill="#ff0000"/><rect x="280" y="668" width="1" height="55" fill="#ff0000"/><rect x="284" y="689" width="1" height="34" fill="#ff0000"/><rect x="287" y="689" width="1" height="34" fill="#0000ff"/><rect x="291" y="685" width="1" height="38" fill="#ff0000"/><rect x="295" y="671" width="1" height="52" fill="#ff0000"/><rect x="299" y="689" width="1" height="34" fill="#ff0000"/><rect x="303" y="684" width="1" height="39" fill="#0000ff"/><rect x="307" y="677" width="1" height="46" fill="#0000ff"/><rect x="311" y="691" width="1" height="32" fill="#ff0000"/><rect x="314" y="690" width="1" height="33" fill="#ff0000"/><rect x="318" y="696" width="1" height="27" fill="#0000ff"/><rect x="322" y="697" width="1" height="26" fill="#ff0000"/><rect x="326" y="693" width="1" height="30" fill="#ff0000"/><rect x="330" y="685" width="1" height="38" fill="#0000ff"/><rect x="334" y="688" width="1" height="35" fill="#ff0000"/><rect x="338" y="695" width="1" height="28" fill="#ff0000"/><rect x="341" y="698" width="1" height="25" fill="#0000ff"/><rect x="345" y="693" width="1" height="30" fill="#ff0000"/><rect x="349" y="688" width="1" height="35" fill="#0000ff"/><rect x="353" y="687" width="1" height="36" fill="#0000ff"/><rect x="357" y="685" width="1" height="38" fill="#ff0000"/><rect x="361" y="687" width="1" height="36" fill="#0000ff"/><rect x="365" y="692" width="1" height="31" fill="#0000ff"/><rect x="368" y="691" width="1" height="32" fill="#0000ff"/><rect x="372" y="704" width="1" height="19" fill="#0000ff"/><rect x="376" y="680" width="1" height="43" fill="#ff0000"/><rect x="380" y="690" width="1" height="33" fill="#ff0000"/><rect x="384" y="663" width="1" height="60" fill="#ff0000"/><rect x="388" y="693" width="1" height="30" fill="#0000ff"/><rect x="392" y="692" width="1" height="31" fill="#0000ff"/><rect x="395" y="691" width="1" height="32" fill="#ff0000"/><rect x="399" y="692" width="1" height="31" fill="#ff0000"/><rect x="403" y="688" width="1" height="35" fill="#ff0000"/><rect x="407" y="688" width="1" height="35" fill="#0000ff"/><rect x="411" y="691" width="1" height="32" fill="#ff0000"/><rect x="415" y="692" width="1" height="31" fill="#0000ff"/><rect x="419" y="687" width="1" height="36" fill="#0000ff"/><rect x="423" y="689" width="1" height="34" fill="#0000ff"/><rect x="426" y="694" width="1" height="29" fill="#ff0000"/><rect x="430" y="642" width="1" height="81" fill="#0000ff"/><rect x="434" y="695" width="1" height="28" fill="#0000ff"/><rect x="438" y="688" width="1" height="35" fill="#ff0000"/><rect x="442" y="689" width="1" height="34" fill="#ff0000"/><rect x="446" y="691" width="1" height="32" fill="#ff0000"/><rect x="450" y="706" width="1" height="17" fill="#ff0000"/><rect x="453" y="703" width="1" height="20" fill="#0000ff"/><rect x="457" y="705" width="1" height="18" fill="#0000ff"/><rect x="461" y="705" width="1" height="18" fill="#ff0000"/><rect x="465" y="703" width="1" height="20" fill="#0000ff"/><rect x="469" y="691" width="1" height="32" fill="#ff0000"/><rect x="473" y="693" width="1" height="30" fill="#ff0000"/><rect x="477" y="690" width="1" height="33" fill="#0000ff"/><rect x="480" y="695" width="1" height="28" fill="#0000ff"/><rect x="484" y="697" width="1" height="26" fill="#ff0000"/><rect x="488" y="693" width="1" height="30" fill="#ff0000"/><rect x="492" y="696" width="1" height="27" fill="#0000ff"/><rect x="496" y="696" width="1" height="27" fill="#ff0000"/><rect x="500" y="689" width="1" height="34" fill="#0000ff"/><rect x="504" y="692" width="1" height="31" fill="#ff0000"/><rect x="507" y="691" width="1" height="32" fill="#ff0000"/><rect x="511" y="692" width="1" height="31" fill="#ff0000"/><rect x="515" y="670" width="1" height="53" fill="#ff0000"/><rect x="519" y="692" width="1" height="31" fill="#0000ff"/><rect x="523" y="697" width="1" height="26" fill="#0000ff"/><rect x="527" y="695" width="1" height="28" fill="#ff0000"/><rect x="531" y="695" width="1" height="28" fill="#0000ff"/><rect x="534" y="689" width="1" height="34" fill="#0000ff"/><rect x="538" y="696" width="1" height="27" fill="#0000ff"/><rect x="542" y="688" width="1" height="35" fill="#0000ff"/><rect x="546" y="693" width="1" height="30" fill="#ff0000"/><rect x="550" y="699" width="1" height="24" fill="#0000ff"/><rect x="554" y="693" width="1" height="30" fill="#ff0000"/><rect x="558" y="700" width="1" height="23" fill="#0000ff"/><rect x="561" y="699" width="1" height="24" fill="#ff0000"/><rect x="565" y="694" width="1" height="29" fill="#ff0000"/><rect x="569" y="690" width="1" height="33" fill="#ff0000"/><rect x="573" y="697" width="1" height="26" fill="#0000ff"/><rect x="577" y="699" width="1" height="24" fill="#ff0000"/><rect x="581" y="698" width="1" height="25" fill="#ff0000"/><rect x="585" y="696" width="1" height="27" fill="#0000ff"/><rect x="588" y="695" width="1" height="28" fill="#ff0000"/><rect x="592" y="674" width="1" height="49" fill="#ff0000"/><rect x="596" y="688" width="1" height="35" fill="#ff0000"/><rect x="600" y="697" width="1" height="26" fill="#0000ff"/><rect x="604" y="698" width="1" height="25" fill="#ff0000"/><rect x="608" y="704" width="1" height="19" fill="#0000ff"/><rect x="612" y="693" width="1" height="30" fill="#0000ff"/><rect x="615" y="699" width="1" height="24" fill="#ff0000"/><rect x="619" y="685" width="1" height="38" fill="#0000ff"/><rect x="623" y="694" width="1" height="29" fill="#ff0000"/><rect x="627" y="703" width="1" height="20" fill="#0000ff"/><rect x="631" y="700" width="1" height="23" fill="#0000ff"/><rect x="635" y="693" width="1" height="30" fill="#0000ff"/><rect x="639" y="686" width="1" height="37" fill="#ff0000"/><rect x="642" y="701" width="1" height="22" fill="#ff0000"/><rect x="646" y="701" width="1" height="22" fill="#ff0000"/><rect x="650" y="702" width="1" height="21" fill="#ff0000"/><rect x="654" y="689" width="1" height="34" fill="#ff0000"/><rect x="658" y="689" width="1" height="34" fill="#ff0000"/><rect x="662" y="689" width="1" height="34" fill="#ff0000"/><rect x="666" y="641" width="1" height="82" fill="#0000ff"/><rect x="669" y="692" width="1" height="31" fill="#ff0000"/><rect x="673" y="695" width="1" height="28" fill="#0000ff"/><rect x="677" y="697" width="1" height="26" fill="#0000ff"/><rect x="681" y="697" width="1" height="26" fill="#0000ff"/><rect x="685" y="696" width="1" height="27" fill="#ff0000"/><rect x="689" y="697" width="1" height="26" fill="#ff0000"/><rect x="693" y="696" width="1" height="27" fill="#0000ff"/><rect x="696" y="693" width="1" height="30" fill="#0000ff"/><rect x="700" y="694" width="1" height="29" fill="#ff0000"/><rect x="704" y="687" width="1" height="36" fill="#ff0000"/><rect x="708" y="700" width="1" height="23" fill="#ff0000"/><rect x="712" y="697" width="1" height="26" fill="#0000ff"/><rect x="716" y="697" width="1" height="26" fill="#0000ff"/><rect x="720" y="700" width="1" height="23" fill="#0000ff"/><rect x="723" y="701" width="1" height="22" fill="#0000ff"/><rect x="727" y="690" width="1" height="33" fill="#0000ff"/><rect x="731" y="697" width="1" height="26" fill="#ff0000"/><rect x="735" y="698" width="1" height="25" fill="#ff0000"/><rect x="739" y="693" width="1" height="30" fill="#0000ff"/><rect x="743" y="698" width="1" height="25" fill="#ff0000"/><rect x="747" y="699" width="1" height="24" fill="#ff0000"/><rect x="750" y="699" width="1" height="24" fill="#0000ff"/><rect x="754" y="694" width="1" height="29" fill="#0000ff"/><rect x="758" y="679" width="1" height="44" fill="#ff0000"/><rect x="762" y="694" width="1" height="29" fill="#0000ff"/><rect x="766" y="695" width="1" height="28" fill="#ff0000"/><rect x="770" y="695" width="1" height="28" fill="#ff0000"/><rect x="774" y="700" width="1" height="23" fill="#ff0000"/><rect x="777" y="700" width="1" height="23" fill="#ff0000"/><rect x="781" y="696" width="1" height="27" fill="#0000ff"/><rect x="785" y="697" width="1" height="26" fill="#ff0000"/><rect x="789" y="702" width="1" height="21" fill="#0000ff"/><rect x="793" y="701" width="1" height="22" fill="#0000ff"/><rect x="797" y="699" width="1" height="24" fill="#0000ff"/><rect x="801" y="700" width="1" height="23" fill="#0000ff"/><rect x="804" y="694" width="1" height="29" fill="#0000ff"/><rect x="808" y="692" width="1" height="31" fill="#0000ff"/><rect x="812" y="691" width="1" height="32" fill="#ff0000"/><rect x="816" y="692" width="1" height="31" fill="#0000ff"/><rect x="820" y="693" width="1" height="30" fill="#0000ff"/><rect x="824" y="690" width="1" height="33" fill="#0000ff"/><rect x="828" y="693" width="1" height="30" fill="#0000ff"/><rect x="831" y="692" width="1" height="31" fill="#0000ff"/><rect x="835" y="673" width="1" height="50" fill="#0000ff"/><rect x="839" y="693" width="1" height="30" fill="#ff0000"/><rect x="843" y="695" width="1" height="28" fill="#0000ff"/><rect x="847" y="691" width="1" height="32" fill="#0000ff"/><rect x="851" y="696" width="1" height="27" fill="#ff0000"/><rect x="855" y="703" width="1" height="20" fill="#0000ff"/><rect x="858" y="700" width="1" height="23" fill="#ff0000"/><rect x="862" y="697" width="1" height="26" fill="#0000ff"/><rect x="866" y="680" width="1" height="43" fill="#0000ff"/><rect x="870" y="689" width="1" height="34" fill="#0000ff"/><polygon points="256.2,42.3 259.6,38.1 263.4,41.7 266.6,42.3" fill="#f4a460" shape-rendering="auto"/><polygon points="279.8,42.3 282.7,39.7 285.2,42.3" fill="#f4a460" shape-rendering="auto"/><polygon points="513.8,42.3 514.2,42.0 518.0,39.4 521.9,39.3 525.8,40.4 527.6,42.3" fill="#f4a460" shape-rendering="auto"/><polygon points="567.1,42.3 568.2,40.7 569.4,42.3" fill="#f4a460" shape-rendering="auto"/><polygon points="665.5,42.3 668.5,39.8 671.5,42.3" fill="#f4a460" shape-rendering="auto"/><polygon points="57.3,116.3 59.0,119.9 62.8,116.8 66.7,117.3 68.6,116.3" fill="#40e0d0" shape-rendering="auto"/><polygon points="71.7,116.3 74.4,118.6 76.0,116.3" fill="#40e0d0" shape-rendering="auto"/><polygon points="370.6,116.3 371.4,117.2 374.4,116.3" fill="#40e0d0" shape-rendering="auto"/><polygon points="822.0,116.3 822.8,117.1 826.7,119.6 830.5,122.7 834.4,124.2 838.2,120.8 842.1,117.1 842.7,116.3" fill="#40e0d0" shape-rendering="auto"/><polyline points="1.5,42.5 4.5,45.5 8.5,50.5 12.5,57.5 16.5,64.5 20.5,70.5 24.5,76.5 28.5,78.5 31.5,77.5 35.5,73.5 39.5,69.5 43.5,68.5 47.5,71.5 51.5,78.5 55.5,88.5 58.5,99.5 62.5,108.5 66.5,113.5 70.5,116.5 74.5,117.5 78.5,116.5 82.5,115.5 85.5,114.5 89.5,112.5 93.5,108.5 97.5,104.5 101.5,98.5 105.5,93.5 109.5,90.5 112.5,89.5 116.5,88.5 120.5,89.5 124.5,88.5 128.5,85.5 132.5,78.5 136.5,70.5 139.5,63.5 143.5,55.5 147.5,51.5 151.5,51.5 155.5,52.5 159.5,56.5 163.5,64.5 166.5,72.5 170.5,78.5 174.5,84.5 178.5,88.5 182.5,87.5 186.5,83.5 190.5,77.5 193.5,71.5 197.5,67.5 201.5,69.5 205.5,73.5 209.5,80.5 213.5,86.5 217.5,88.5 220.5,88.5 224.5,88.5 228.5,89.5 232.5,88.5 236.5,90.5 240.5,90.5 244.5,85.5 247.5,77.5 251.5,68.5 255.5,58.5 259.5,49.5 263.5,44.5 267.5,42.5 271.5,41.5 275.5,41.5 278.5,42.5 282.5,42.5 286.5,42.5 290.5,42.5 294.5,42.5 298.5,42.5 302.5,44.5 305.5,46.5 309.5,50.5 313.5,55.5 317.5,60.5 321.5,64.5 325.5,66.5 329.5,67.5 332.5,68.5 336.5,68.5 340.5,68.5 344.5,70.5 348.5,70.5 352.5,70.5 356.5,72.5 359.5,76.5 363.5,82.5 367.5,92.5 371.5,101.5 375.5,108.5 379.5,112.5 383.5,111.5 386.5,104.5 390.5,94.5 394.5,82.5 398.5,69.5 402.5,58.5 406.5,50.5 410.5,46.5 413.5,44.5 417.5,45.5 421.5,48.5 425.5,52.5 429.5,60.5 433.5,69.5 437.5,77.5 440.5,83.5 444.5,86.5 448.5,83.5 452.5,74.5 456.5,65.5 460.5,57.5 464.5,50.5 467.5,46.5 471.5,46.5 475.5,45.5 479.5,45.5 483.5,45.5 487.5,45.5 491.5,45.5 494.5,46.5 498.5,47.5 502.5,48.5 506.5,49.5 510.5,48.5 514.5,47.5 518.5,44.5 521.5,42.5 525.5,41.5 529.5,41.5 533.5,42.5 537.5,46.5 541.5,50.5 545.5,54.5 548.5,59.5 552.5,61.5 556.5,61.5 560.5,59.5 564.5,55.5 568.5,50.5 572.5,47.5 575.5,45.5 579.5,44.5 583.5,46.5 587.5,48.5 591.5,49.5 595.5,49.5 599.5,50.5 602.5,49.5 606.5,48.5 610.5,48.5 614.5,48.5 618.5,47.5 622.5,49.5 626.5,51.5 629.5,52.5 633.5,57.5 637.5,63.5 641.5,69.5 645.5,75.5 649.5,80.5 653.5,78.5 656.5,74.5 660.5,67.5 664.5,59.5 668.5,50.5 672.5,45.5 676.5,44.5 680.5,45.5 683.5,49.5 687.5,53.5 691.5,58.5 695.5,62.5 699.5,64.5 703.5,65.5 707.5,66.5 710.5,67.5 714.5,67.5 718.5,69.5 722.5,74.5 726.5,81.5 730.5,91.5 734.5,98.5 737.5,105.5 741.5,107.5 745.5,104.5 749.5,98.5 753.5,93.5 757.5,86.5 761.5,81.5 764.5,78.5 768.5,75.5 772.5,70.5 776.5,66.5 780.5,61.5 784.5,55.5 788.5,50.5 791.5,48.5 795.5,48.5 799.5,52.5 803.5,59.5 807.5,69.5 811.5,80.5 815.5,90.5 818.5,99.5 822.5,106.5 826.5,112.5 830.5,116.5 834.5,119.5 838.5,120.5 842.5,120.5 845.5,119.5 849.5,116.5 853.5,111.5 857.5,107.5 861.5,103.5 865.5,100.5 869.5,100.5" fill="none" stroke="#00ff00" stroke-width="1" shape-rendering="crispEdges" stroke-linejoin="round" /><polyline points="1.5,49.5 4.5,55.5 8.5,64.5 12.5,71.5 16.5,81.5 20.5,81.5 24.5,82.5 28.5,74.5 31.5,68.5 35.5,60.5 39.5,63.5 43.5,73.5 47.5,89.5 51.5,103.5 55.5,111.5 58.5,119.5 62.5,116.5 66.5,117.5 70.5,115.5 74.5,118.5 78.5,113.5 82.5,115.5 85.5,110.5 89.5,106.5 93.5,97.5 97.5,94.5 101.5,85.5 105.5,85.5 109.5,88.5 112.5,93.5 116.5,91.5 120.5,86.5 124.5,82.5 128.5,72.5 132.5,58.5 136.5,53.5 139.5,49.5 143.5,44.5 147.5,48.5 151.5,58.5 155.5,62.5 159.5,69.5 163.5,83.5 166.5,87.5 170.5,89.5 174.5,93.5 178.5,89.5 182.5,76.5 186.5,68.5 190.5,59.5 193.5,61.5 197.5,72.5 201.5,84.5 205.5,88.5 209.5,92.5 213.5,93.5 217.5,85.5 220.5,82.5 224.5,89.5 228.5,94.5 232.5,92.5 236.5,90.5 240.5,83.5 244.5,66.5 247.5,54.5 251.5,46.5 255.5,42.5 259.5,38.5 263.5,41.5 267.5,42.5 271.5,42.5 275.5,43.5 278.5,43.5 282.5,39.5 286.5,43.5 290.5,43.5 294.5,42.5 298.5,43.5 302.5,49.5 305.5,55.5 309.5,62.5 313.5,65.5 317.5,70.5 321.5,70.5 325.5,61.5 329.5,67.5 332.5,73.5 336.5,70.5 340.5,70.5 344.5,71.5 348.5,66.5 352.5,70.5 356.5,80.5 359.5,91.5 363.5,104.5 367.5,113.5 371.5,117.5 375.5,116.5 379.5,112.5 383.5,97.5 386.5,81.5 390.5,66.5 394.5,55.5 398.5,44.5 402.5,42.5 406.5,44.5 410.5,43.5 413.5,45.5 417.5,49.5 421.5,59.5 425.5,65.5 429.5,79.5 433.5,92.5 437.5,92.5 440.5,86.5 444.5,79.5 448.5,64.5 452.5,48.5 456.5,48.5 460.5,44.5 464.5,44.5 467.5,46.5 471.5,47.5 475.5,43.5 479.5,45.5 483.5,45.5 487.5,46.5 491.5,47.5 494.5,48.5 498.5,50.5 502.5,50.5 506.5,48.5 510.5,44.5 514.5,41.5 518.5,39.5 521.5,39.5 525.5,40.5 529.5,44.5 533.5,50.5 537.5,55.5 541.5,58.5 545.5,63.5 548.5,66.5 552.5,60.5 556.5,56.5 560.5,50.5 564.5,45.5 568.5,40.5 572.5,45.5 575.5,46.5 579.5,46.5 583.5,52.5 587.5,52.5 591.5,48.5 595.5,48.5 599.5,51.5 602.5,45.5 606.5,46.5 610.5,48.5 614.5,48.5 618.5,49.5 622.5,52.5 626.5,55.5 629.5,58.5 633.5,73.5 637.5,78.5 641.5,82.5 645.5,84.5 649.5,83.5 653.5,66.5 656.5,55.5 660.5,48.5 664.5,43.5 668.5,39.5 672.5,42.5 676.5,47.5 680.5,55.5 683.5,61.5 687.5,62.5 691.5,63.5 695.5,67.5 699.5,69.5 703.5,66.5 707.5,65.5 710.5,66.5 714.5,71.5 718.5,77.5 722.5,88.5 726.5,104.5 730.5,113.5 734.5,109.5 737.5,108.5 741.5,102.5 745.5,90.5 749.5,82.5 753.5,83.5 757.5,75.5 761.5,73.5 764.5,74.5 768.5,69.5 772.5,60.5 776.5,55.5 780.5,48.5 784.5,44.5 788.5,44.5 791.5,48.5 795.5,57.5 799.5,67.5 803.5,79.5 807.5,92.5 811.5,102.5 815.5,107.5 818.5,113.5 822.5,117.5 826.5,119.5 830.5,122.5 834.5,124.5 838.5,120.5 842.5,117.5 845.5,112.5 849.5,106.5 853.5,102.5 857.5,97.5 861.5,98.5 865.5,99.5 869.5,105.5" fill="none" stroke="#ff0000" stroke-width="1" shape-rendering="crispEdges" stroke-linejoin="round" /><rect x="2" y="169" width="1" height="1" fill="#ff0000"/><rect x="6" y="171" width="1" height="1" fill="#0000ff"/><rect x="10" y="171" width="1" height="2" fill="#0000ff"/><rect x="14" y="171" width="1" height="2" fill="#0000ff"/><rect x="17" y="171" width="1" height="3" fill="#0000ff"/><rect x="21" y="171" width="1" height="1" fill="#0000ff"/><rect x="25" y="171" width="1" height="1" fill="#0000ff"/><rect x="29" y="168" width="1" height="2" fill="#ff0000"/><rect x="33" y="168" width="1" height="2" fill="#ff0000"/><rect x="37" y="169" width="1" height="1" fill="#ff0000"/><rect x="41" y="171" width="1" height="1" fill="#0000ff"/><rect x="44" y="171" width="1" height="5" fill="#0000ff"/><rect x="48" y="171" width="1" height="8" fill="#0000ff"/><rect x="52" y="171" width="1" height="10" fill="#0000ff"/><rect x="56" y="171" width="1" height="10" fill="#0000ff"/><rect x="60" y="171" width="1" height="13" fill="#0000ff"/><rect x="64" y="171" width="1" height="13" fill="#0000ff"/><rect x="68" y="171" width="1" height="19" fill="#0000ff"/><rect x="71" y="171" width="1" height="19" fill="#0000ff"/><rect x="75" y="171" width="1" height="26" fill="#0000ff"/><rect x="79" y="171" width="1" height="20" fill="#0000ff"/><rect x="83" y="171" width="1" height="23" fill="#0000ff"/><rect x="87" y="171" width="1" height="15" fill="#0000ff"/><rect x="91" y="171" width="1" height="7" fill="#0000ff"/><rect x="95" y="169" width="1" height="1" fill="#ff0000"/><rect x="98" y="165" width="1" height="5" fill="#ff0000"/><rect x="102" y="163" width="1" height="7" fill="#ff0000"/><rect x="106" y="168" width="1" height="2" fill="#ff0000"/><rect x="110" y="171" width="1" height="2" fill="#0000ff"/><rect x="114" y="171" width="1" height="3" fill="#0000ff"/><rect x="118" y="168" width="1" height="2" fill="#ff0000"/><rect x="122" y="163" width="1" height="7" fill="#ff0000"/><rect x="125" y="163" width="1" height="7" fill="#ff0000"/><rect x="129" y="161" width="1" height="9" fill="#ff0000"/><rect x="133" y="156" width="1" height="14" fill="#ff0000"/><rect x="137" y="155" width="1" height="15" fill="#ff0000"/><rect x="141" y="154" width="1" height="16" fill="#ff0000"/><rect x="145" y="157" width="1" height="13" fill="#ff0000"/><rect x="149" y="163" width="1" height="7" fill="#ff0000"/><rect x="152" y="168" width="1" height="2" fill="#ff0000"/><rect x="156" y="166" width="1" height="4" fill="#ff0000"/><rect x="160" y="167" width="1" height="3" fill="#ff0000"/><rect x="164" y="171" width="1" height="2" fill="#0000ff"/><rect x="168" y="171" width="1" height="3" fill="#0000ff"/><rect x="172" y="171" width="1" height="2" fill="#0000ff"/><rect x="176" y="169" width="1" height="1" fill="#ff0000"/><rect x="179" y="166" width="1" height="4" fill="#ff0000"/><rect x="183" y="162" width="1" height="8" fill="#ff0000"/><rect x="187" y="163" width="1" height="7" fill="#ff0000"/><rect x="191" y="164" width="1" height="6" fill="#ff0000"/><rect x="195" y="169" width="1" height="1" fill="#ff0000"/><rect x="199" y="171" width="1" height="6" fill="#0000ff"/><rect x="203" y="171" width="1" height="9" fill="#0000ff"/><rect x="206" y="171" width="1" height="5" fill="#0000ff"/><rect x="210" y="171" width="1" height="1" fill="#0000ff"/><rect x="214" y="171" width="1" height="1" fill="#0000ff"/><rect x="218" y="169" width="1" height="1" fill="#ff0000"/><rect x="222" y="171" width="1" height="1" fill="#0000ff"/><rect x="226" y="171" width="1" height="5" fill="#0000ff"/><rect x="230" y="171" width="1" height="4" fill="#0000ff"/><rect x="233" y="171" width="1" height="1" fill="#0000ff"/><rect x="237" y="167" width="1" height="3" fill="#ff0000"/><rect x="241" y="165" width="1" height="5" fill="#ff0000"/><rect x="245" y="159" width="1" height="11" fill="#ff0000"/><rect x="249" y="158" width="1" height="12" fill="#ff0000"/><rect x="253" y="156" width="1" height="14" fill="#ff0000"/><rect x="257" y="158" width="1" height="12" fill="#ff0000"/><rect x="260" y="157" width="1" height="13" fill="#ff0000"/><rect x="264" y="162" width="1" height="8" fill="#ff0000"/><rect x="268" y="162" width="1" height="8" fill="#ff0000"/><rect x="272" y="165" width="1" height="5" fill="#ff0000"/><rect x="276" y="166" width="1" height="4" fill="#ff0000"/><rect x="280" y="163" width="1" height="7" fill="#ff0000"/><rect x="284" y="161" width="1" height="9" fill="#ff0000"/><rect x="287" y="164" width="1" height="6" fill="#ff0000"/><rect x="291" y="164" width="1" height="6" fill="#ff0000"/><rect x="295" y="160" width="1" height="10" fill="#ff0000"/><rect x="299" y="159" width="1" height="11" fill="#ff0000"/><rect x="303" y="164" width="1" height="6" fill="#ff0000"/><rect x="307" y="171" width="1" height="1" fill="#0000ff"/><rect x="311" y="171" width="1" height="3" fill="#0000ff"/><rect x="314" y="171" width="1" height="1" fill="#0000ff"/><rect x="318" y="171" width="1" height="1" fill="#0000ff"/><rect x="322" y="171" width="1" height="1" fill="#0000ff"/><rect x="326" y="169" width="1" height="1" fill="#ff0000"/><rect x="330" y="171" width="1" height="4" fill="#0000ff"/><rect x="334" y="171" width="1" height="5" fill="#0000ff"/><rect x="338" y="171" width="1" height="1" fill="#0000ff"/><rect x="341" y="171" width="1" height="1" fill="#0000ff"/><rect x="345" y="171" width="1" height="1" fill="#0000ff"/><rect x="349" y="171" width="1" height="4" fill="#0000ff"/><rect x="353" y="171" width="1" height="7" fill="#0000ff"/><rect x="357" y="171" width="1" height="8" fill="#0000ff"/><rect x="361" y="171" width="1" height="11" fill="#0000ff"/><rect x="365" y="171" width="1" height="13" fill="#0000ff"/><rect x="368" y="171" width="1" height="16" fill="#0000ff"/><rect x="372" y="171" width="1" height="16" fill="#0000ff"/><rect x="376" y="171" width="1" height="11" fill="#0000ff"/><rect x="380" y="171" width="1" height="6" fill="#0000ff"/><rect x="384" y="167" width="1" height="3" fill="#ff0000"/><rect x="388" y="162" width="1" height="8" fill="#ff0000"/><rect x="392" y="161" width="1" height="9" fill="#ff0000"/><rect x="395" y="160" width="1" height="10" fill="#ff0000"/><rect x="399" y="159" width="1" height="11" fill="#ff0000"/><rect x="403" y="160" width="1" height="10" fill="#ff0000"/><rect x="407" y="164" width="1" height="6" fill="#ff0000"/><rect x="411" y="164" width="1" height="6" fill="#ff0000"/><rect x="415" y="167" width="1" height="3" fill="#ff0000"/><rect x="419" y="171" width="1" height="1" fill="#0000ff"/><rect x="423" y="171" width="1" height="3" fill="#0000ff"/><rect x="426" y="171" width="1" height="4" fill="#0000ff"/><rect x="430" y="171" width="1" height="4" fill="#0000ff"/><rect x="434" y="171" width="1" height="6" fill="#0000ff"/><rect x="438" y="171" width="1" height="1" fill="#0000ff"/><rect x="442" y="169" width="1" height="1" fill="#ff0000"/><rect x="446" y="167" width="1" height="3" fill="#ff0000"/><rect x="450" y="165" width="1" height="5" fill="#ff0000"/><rect x="453" y="164" width="1" height="6" fill="#ff0000"/><rect x="457" y="167" width="1" height="3" fill="#ff0000"/><rect x="461" y="167" width="1" height="3" fill="#ff0000"/><rect x="465" y="168" width="1" height="2" fill="#ff0000"/><rect x="469" y="167" width="1" height="3" fill="#ff0000"/><rect x="473" y="166" width="1" height="4" fill="#ff0000"/><rect x="477" y="167" width="1" height="3" fill="#ff0000"/><rect x="480" y="168" width="1" height="2" fill="#ff0000"/><rect x="484" y="169" width="1" height="1" fill="#ff0000"/><rect x="488" y="169" width="1" height="1" fill="#ff0000"/><rect x="492" y="169" width="1" height="1" fill="#ff0000"/><rect x="496" y="169" width="1" height="1" fill="#ff0000"/><rect x="500" y="171" width="1" height="1" fill="#0000ff"/><rect x="504" y="171" width="1" height="1" fill="#0000ff"/><rect x="507" y="169" width="1" height="1" fill="#ff0000"/><rect x="511" y="169" width="1" height="1" fill="#ff0000"/><rect x="515" y="167" width="1" height="3" fill="#ff0000"/><rect x="519" y="167" width="1" height="3" fill="#ff0000"/><rect x="523" y="169" width="1" height="1" fill="#ff0000"/><rect x="527" y="168" width="1" height="2" fill="#ff0000"/><rect x="531" y="169" width="1" height="1" fill="#ff0000"/><rect x="534" y="171" width="1" height="1" fill="#0000ff"/><rect x="538" y="171" width="1" height="2" fill="#0000ff"/><rect x="542" y="171" width="1" height="3" fill="#0000ff"/><rect x="546" y="171" width="1" height="2" fill="#0000ff"/><rect x="550" y="171" width="1" height="2" fill="#0000ff"/><rect x="554" y="171" width="1" height="1" fill="#0000ff"/><rect x="558" y="169" width="1" height="1" fill="#ff0000"/><rect x="561" y="169" width="1" height="1" fill="#ff0000"/><rect x="565" y="169" width="1" height="1" fill="#ff0000"/><rect x="569" y="169" width="1" height="1" fill="#ff0000"/><rect x="573" y="171" width="1" height="1" fill="#0000ff"/><rect x="577" y="171" width="1" height="1" fill="#0000ff"/><rect x="581" y="171" width="1" height="1" fill="#0000ff"/><rect x="585" y="171" width="1" height="2" fill="#0000ff"/><rect x="588" y="171" width="1" height="1" fill="#0000ff"/><rect x="592" y="171" width="1" height="1" fill="#0000ff"/><rect x="596" y="171" width="1" height="1" fill="#0000ff"/><rect x="600" y="171" width="1" height="1" fill="#0000ff"/><rect x="604" y="171" width="1" height="1" fill="#0000ff"/><rect x="608" y="171" width="1" height="1" fill="#0000ff"/><rect x="612" y="171" width="1" height="1" fill="#0000ff"/><rect x="615" y="171" width="1" height="1" fill="#0000ff"/><rect x="619" y="171" width="1" height="1" fill="#0000ff"/><rect x="623" y="171" width="1" height="1" fill="#0000ff"/><rect x="627" y="171" width="1" height="1" fill="#0000ff"/><rect x="631" y="171" width="1" height="2" fill="#0000ff"/><rect x="635" y="171" width="1" height="5" fill="#0000ff"/><rect x="639" y="171" width="1" height="5" fill="#0000ff"/><rect x="642" y="171" width="1" height="3" fill="#0000ff"/><rect x="646" y="171" width="1" height="2" fill="#0000ff"/><rect x="650" y="171" width="1" height="1" fill="#0000ff"/><rect x="654" y="168" width="1" height="2" fill="#ff0000"/><rect x="658" y="166" width="1" height="4" fill="#ff0000"/><rect x="662" y="165" width="1" height="5" fill="#ff0000"/><rect x="666" y="165" width="1" height="5" fill="#ff0000"/><rect x="669" y="166" width="1" height="4" fill="#ff0000"/><rect x="673" y="168" width="1" height="2" fill="#ff0000"/><rect x="677" y="169" width="1" height="1" fill="#ff0000"/><rect x="681" y="171" width="1" height="2" fill="#0000ff"/><rect x="685" y="171" width="1" height="2" fill="#0000ff"/><rect x="689" y="171" width="1" height="1" fill="#0000ff"/><rect x="693" y="171" width="1" height="1" fill="#0000ff"/><rect x="696" y="171" width="1" height="1" fill="#0000ff"/><rect x="700" y="171" width="1" height="1" fill="#0000ff"/><rect x="704" y="171" width="1" height="1" fill="#0000ff"/><rect x="708" y="169" width="1" height="1" fill="#ff0000"/><rect x="712" y="171" width="1" height="1" fill="#0000ff"/><rect x="716" y="171" width="1" height="2" fill="#0000ff"/><rect x="720" y="171" width="1" height="3" fill="#0000ff"/><rect x="723" y="171" width="1" height="6" fill="#0000ff"/><rect x="727" y="171" width="1" height="9" fill="#0000ff"/><rect x="731" y="171" width="1" height="9" fill="#0000ff"/><rect x="735" y="171" width="1" height="5" fill="#0000ff"/><rect x="739" y="171" width="1" height="5" fill="#0000ff"/><rect x="743" y="171" width="1" height="3" fill="#0000ff"/><rect x="747" y="169" width="1" height="1" fill="#ff0000"/><rect x="750" y="169" width="1" height="1" fill="#ff0000"/><rect x="754" y="169" width="1" height="1" fill="#ff0000"/><rect x="758" y="169" width="1" height="1" fill="#ff0000"/><rect x="762" y="169" width="1" height="1" fill="#ff0000"/><rect x="766" y="169" width="1" height="1" fill="#ff0000"/><rect x="770" y="168" width="1" height="2" fill="#ff0000"/><rect x="774" y="166" width="1" height="4" fill="#ff0000"/><rect x="777" y="165" width="1" height="5" fill="#ff0000"/><rect x="781" y="165" width="1" height="5" fill="#ff0000"/><rect x="785" y="165" width="1" height="5" fill="#ff0000"/><rect x="789" y="165" width="1" height="5" fill="#ff0000"/><rect x="793" y="167" width="1" height="3" fill="#ff0000"/><rect x="797" y="171" width="1" height="1" fill="#0000ff"/><rect x="801" y="171" width="1" height="2" fill="#0000ff"/><rect x="804" y="171" width="1" height="4" fill="#0000ff"/><rect x="808" y="171" width="1" height="7" fill="#0000ff"/><rect x="812" y="171" width="1" height="7" fill="#0000ff"/><rect x="816" y="171" width="1" height="6" fill="#0000ff"/><rect x="820" y="171" width="1" height="7" fill="#0000ff"/><rect x="824" y="171" width="1" height="8" fill="#0000ff"/><rect x="828" y="171" width="1" height="8" fill="#0000ff"/><rect x="831" y="171" width="1" height="9" fill="#0000ff"/><rect x="835" y="171" width="1" height="10" fill="#0000ff"/><rect x="839" y="171" width="1" height="7" fill="#0000ff"/><rect x="843" y="171" width="1" height="4" fill="#0000ff"/><rect x="847" y="171" width="1" height="2" fill="#0000ff"/><rect x="851" y="171" width="1" height="1" fill="#0000ff"/><rect x="855" y="171" width="1" height="1" fill="#0000ff"/><rect x="858" y="168" width="1" height="2" fill="#ff0000"/><rect x="862" y="169" width="1" height="1" fill="#ff0000"/><rect x="866" y="169" width="1" height="1" fill="#ff0000"/><rect x="870" y="171" width="1" height="3" fill="#0000ff"/><rect x="0" y="170" width="892" height="1" fill="#000"/><polyline points="1.5,156.5 4.5,157.5 8.5,157.5 12.5,158.5 16.5,159.5 20.5,159.5 24.5,159.5 28.5,159.5 31.5,158.5 35.5,158.5 39.5,159.5 43.5,160.5 47.5,163.5 51.5,165.5 55.5,168.5 58.5,172.5 62.5,175.5 66.5,180.5 70.5,185.5 74.5,192.5 78.5,197.5 82.5,203.5 85.5,207.5 89.5,208.5 93.5,208.5 97.5,207.5 101.5,205.5 105.5,205.5 109.5,205.5 112.5,206.5 116.5,206.5 120.5,204.5 124.5,202.5 128.5,199.5 132.5,196.5 136.5,192.5 139.5,188.5 143.5,185.5 147.5,183.5 151.5,182.5 155.5,181.5 159.5,181.5 163.5,181.5 166.5,182.5 170.5,183.5 174.5,183.5 178.5,181.5 182.5,179.5 186.5,178.5 190.5,176.5 193.5,176.5 197.5,177.5 201.5,180.5 205.5,181.5 209.5,181.5 213.5,182.5 217.5,182.5 220.5,182.5 224.5,183.5 228.5,184.5 232.5,185.5 236.5,184.5 240.5,183.5 244.5,180.5 247.5,177.5 251.5,173.5 255.5,170.5 259.5,167.5 263.5,165.5 267.5,163.5 271.5,161.5 275.5,160.5 278.5,158.5 282.5,156.5 286.5,154.5 290.5,153.5 294.5,150.5 298.5,148.5 302.5,146.5 305.5,147.5 309.5,148.5 313.5,148.5 317.5,148.5 321.5,148.5 325.5,148.5 329.5,149.5 332.5,151.5 336.5,151.5 340.5,152.5 344.5,152.5 348.5,153.5 352.5,155.5 356.5,157.5 359.5,160.5 363.5,163.5 367.5,168.5 371.5,172.5 375.5,175.5 379.5,176.5 383.5,175.5 386.5,173.5 390.5,171.5 394.5,168.5 398.5,166.5 402.5,163.5 406.5,161.5 410.5,160.5 413.5,159.5 417.5,159.5 421.5,160.5 425.5,161.5 429.5,163.5 433.5,164.5 437.5,165.5 440.5,164.5 444.5,164.5 448.5,162.5 452.5,161.5 456.5,160.5 460.5,159.5 464.5,158.5 467.5,158.5 471.5,157.5 475.5,156.5 479.5,155.5 483.5,155.5 487.5,155.5 491.5,154.5 494.5,154.5 498.5,154.5 502.5,155.5 506.5,154.5 510.5,154.5 514.5,153.5 518.5,153.5 521.5,152.5 525.5,152.5 529.5,151.5 533.5,152.5 537.5,152.5 541.5,153.5 545.5,154.5 548.5,154.5 552.5,154.5 556.5,154.5 560.5,154.5 564.5,154.5 568.5,154.5 572.5,154.5 575.5,155.5 579.5,155.5 583.5,156.5 587.5,156.5 591.5,156.5 595.5,157.5 599.5,157.5 602.5,157.5 606.5,157.5 610.5,157.5 614.5,157.5 618.5,158.5 622.5,158.5 626.5,159.5 629.5,159.5 633.5,161.5 637.5,162.5 641.5,163.5 645.5,164.5 649.5,164.5 653.5,164.5 656.5,163.5 660.5,161.5 664.5,160.5 668.5,159.5 672.5,158.5 676.5,158.5 680.5,159.5 683.5,160.5 687.5,160.5 691.5,160.5 695.5,160.5 699.5,161.5 703.5,161.5 707.5,161.5 710.5,161.5 714.5,162.5 718.5,163.5 722.5,165.5 726.5,167.5 730.5,169.5 734.5,171.5 737.5,172.5 741.5,173.5 745.5,173.5 749.5,173.5 753.5,173.5 757.5,172.5 761.5,172.5 764.5,172.5 768.5,171.5 772.5,170.5 776.5,169.5 780.5,168.5 784.5,166.5 788.5,165.5 791.5,164.5 795.5,164.5 799.5,165.5 803.5,166.5 807.5,168.5 811.5,170.5 815.5,172.5 818.5,174.5 822.5,176.5 826.5,178.5 830.5,181.5 834.5,183.5 838.5,185.5 842.5,186.5 845.5,187.5 849.5,187.5 853.5,187.5 857.5,187.5 861.5,187.5 865.5,187.5 869.5,188.5" fill="none" stroke="#00ff00" stroke-width="1" shape-rendering="crispEdges" stroke-linejoin="round" /><polyline points="1.5,155.5 4.5,157.5 8.5,160.5 12.5,160.5 16.5,163.5 20.5,161.5 24.5,160.5 28.5,157.5 31.5,156.5 35.5,158.5 39.5,161.5 43.5,167.5 47.5,171.5 51.5,176.5 55.5,179.5 58.5,186.5 62.5,189.5 66.5,200.5 70.5,205.5 74.5,219.5 78.5,218.5 82.5,226.5 85.5,222.5 89.5,216.5 93.5,207.5 97.5,202.5 101.5,198.5 105.5,202.5 109.5,208.5 112.5,209.5 116.5,203.5 120.5,196.5 124.5,194.5 128.5,190.5 132.5,182.5 136.5,177.5 139.5,172.5 143.5,171.5 147.5,176.5 151.5,180.5 155.5,177.5 159.5,178.5 163.5,183.5 166.5,185.5 170.5,185.5 174.5,182.5 178.5,177.5 182.5,171.5 186.5,170.5 190.5,169.5 193.5,174.5 197.5,184.5 201.5,190.5 205.5,187.5 209.5,183.5 213.5,184.5 217.5,181.5 220.5,183.5 224.5,189.5 228.5,189.5 232.5,186.5 236.5,181.5 240.5,177.5 244.5,169.5 247.5,164.5 251.5,159.5 255.5,157.5 259.5,153.5 263.5,156.5 267.5,154.5 271.5,155.5 275.5,156.5 278.5,151.5 282.5,147.5 286.5,149.5 290.5,147.5 294.5,140.5 298.5,137.5 302.5,140.5 305.5,149.5 309.5,151.5 313.5,149.5 317.5,150.5 321.5,149.5 325.5,147.5 329.5,154.5 332.5,156.5 336.5,153.5 340.5,153.5 344.5,153.5 348.5,157.5 352.5,162.5 356.5,165.5 359.5,172.5 363.5,177.5 367.5,184.5 371.5,189.5 375.5,186.5 379.5,183.5 383.5,172.5 386.5,165.5 390.5,161.5 394.5,158.5 398.5,155.5 402.5,152.5 406.5,155.5 410.5,154.5 413.5,156.5 417.5,159.5 421.5,164.5 425.5,166.5 429.5,168.5 433.5,171.5 437.5,166.5 440.5,163.5 444.5,160.5 448.5,157.5 452.5,155.5 456.5,156.5 460.5,155.5 464.5,156.5 467.5,154.5 471.5,152.5 475.5,152.5 479.5,153.5 483.5,154.5 487.5,153.5 491.5,153.5 494.5,154.5 498.5,155.5 502.5,155.5 506.5,154.5 510.5,153.5 514.5,150.5 518.5,150.5 521.5,150.5 525.5,150.5 529.5,150.5 533.5,153.5 537.5,154.5 541.5,156.5 545.5,156.5 548.5,157.5 552.5,155.5 556.5,154.5 560.5,153.5 564.5,153.5 568.5,153.5 572.5,156.5 575.5,156.5 579.5,156.5 583.5,159.5 587.5,158.5 591.5,157.5 595.5,157.5 599.5,157.5 602.5,157.5 606.5,157.5 610.5,158.5 614.5,158.5 618.5,159.5 622.5,160.5 626.5,161.5 629.5,161.5 633.5,166.5 637.5,167.5 641.5,167.5 645.5,167.5 649.5,166.5 653.5,161.5 656.5,158.5 660.5,156.5 664.5,155.5 668.5,155.5 672.5,156.5 676.5,158.5 680.5,161.5 683.5,163.5 687.5,161.5 691.5,161.5 695.5,162.5 699.5,163.5 703.5,162.5 707.5,161.5 710.5,162.5 714.5,165.5 718.5,167.5 722.5,171.5 726.5,177.5 730.5,179.5 734.5,177.5 737.5,178.5 741.5,177.5 745.5,173.5 749.5,171.5 753.5,172.5 757.5,171.5 761.5,172.5 764.5,171.5 768.5,169.5 772.5,166.5 776.5,163.5 780.5,162.5 784.5,161.5 788.5,160.5 791.5,161.5 795.5,165.5 799.5,168.5 803.5,172.5 807.5,175.5 811.5,177.5 815.5,179.5 818.5,182.5 822.5,185.5 826.5,187.5 830.5,191.5 834.5,194.5 838.5,192.5 842.5,191.5 845.5,190.5 849.5,188.5 853.5,188.5 857.5,185.5 861.5,186.5 865.5,187.5 869.5,192.5" fill="none" stroke="#ff0000" stroke-width="1" shape-rendering="crispEdges" stroke-linejoin="round" /><path d="M361.5,9.5H368.5M361.5,9.5V19.5H369.5M371.5,8.5V21.5M371.5,13.5H373.5M377.5,15.5H389.5M383.5,15.5V21.5M394.5,8.5H404.5M399.5,9.5L393.5,12.5M399.5,9.5L405.5,12.5M399.5,13.5V15.5M393.5,15.5H405.5M394.5,18.5V21.5H404.5M415.5,9.5V11.5L409.5,15.5M415.5,11.5L421.5,15.5M409.5,20.5H421.5M432.5,8.5V10.5L428.5,15.5M432.5,10.5L437.5,15.5M439.5,8.5V17.5M439.5,12.5H441.5M430.5,18.5V21.5H439.5M455.5,8.5V16.5M451.5,12.5H455.5M446.5,16.5V21.5H455.5V16.5M446.5,19.5H455.5M461.5,9.5H468.5M464.5,9.5L460.5,19.5M465.5,13.5L468.5,19.5M471.5,8.5V21.5M483.5,8.5V9.5L477.5,12.5M483.5,9.5L489.5,12.5M477.5,15.5H489.5M483.5,15.5V21.5M568.5,8.5V14.5M559.5,16.5H568.5V18.5H559.5V21.5H568.5M574.5,8.5H580.5V12.5L573.5,16.5M584.5,8.5V17.5M584.5,12.5H586.5M575.5,18.5V21.5H584.5" fill="none" stroke="#000" stroke-width="1" shape-rendering="auto"/><ellipse cx="383.7" cy="11" rx="5.3" ry="2.6" fill="none" stroke="#000" stroke-width="1" shape-rendering="auto"/><ellipse cx="448.5" cy="11.4" rx="3.2" ry="3.2" fill="none" stroke="#000" stroke-width="1" shape-rendering="auto"/><ellipse cx="561.6" cy="11.4" rx="3.3" ry="3.2" fill="none" stroke="#000" stroke-width="1" shape-rendering="auto"/><text x="499.5" y="19.6" font-size="13" font-weight="bold" fill="#000">(</text><text x="507" y="19.6" font-size="13" font-weight="bold" fill="#000">.DJI</text><text x="535.5" y="19.6" font-size="13" font-weight="bold" fill="#000">)</text><text x="543.5" y="19.6" font-size="13" font-weight="bold" fill="#000">,</text><defs><clipPath id="cpS"><rect x="893" y="31" width="60" height="98"/></clipPath><clipPath id="cpM"><rect x="893" y="131" width="60" height="102"/></clipPath><clipPath id="cpP"><rect x="893" y="234" width="60" height="381"/></clipPath><clipPath id="cpV"><rect x="893" y="616" width="60" height="107"/></clipPath></defs><rect x="892" y="125.1" width="6" height="1" fill="#000"/><rect x="892" y="115.8" width="3" height="1" fill="#000"/><rect x="892" y="106.6" width="3" height="1" fill="#000"/><rect x="892" y="97.3" width="3" height="1" fill="#000"/><rect x="892" y="88.1" width="3" height="1" fill="#000"/><rect x="892" y="78.8" width="6" height="1" fill="#000"/><rect x="892" y="69.5" width="3" height="1" fill="#000"/><rect x="892" y="60.3" width="3" height="1" fill="#000"/><rect x="892" y="51.0" width="3" height="1" fill="#000"/><rect x="892" y="41.8" width="3" height="1" fill="#000"/><rect x="892" y="32.5" width="6" height="1" fill="#000"/><text x="900" y="83.29999999999998" font-size="11" fill="#000" clip-path="url(#cpS)">50</text><text x="900" y="129.6" font-size="11" fill="#000" clip-path="url(#cpS)">0</text><rect x="892" y="227.4" width="3" height="1" fill="#000"/><rect x="892" y="220.2" width="3" height="1" fill="#000"/><rect x="892" y="213.0" width="3" height="1" fill="#000"/><rect x="892" y="205.8" width="6" height="1" fill="#000"/><rect x="892" y="198.6" width="3" height="1" fill="#000"/><rect x="892" y="191.4" width="3" height="1" fill="#000"/><rect x="892" y="184.2" width="3" height="1" fill="#000"/><rect x="892" y="177.0" width="3" height="1" fill="#000"/><rect x="892" y="169.8" width="6" height="1" fill="#000"/><rect x="892" y="162.6" width="3" height="1" fill="#000"/><rect x="892" y="155.4" width="3" height="1" fill="#000"/><rect x="892" y="148.2" width="3" height="1" fill="#000"/><rect x="892" y="141.0" width="3" height="1" fill="#000"/><rect x="892" y="133.8" width="6" height="1" fill="#000"/><text x="900" y="137.8" font-size="11" fill="#000" clip-path="url(#cpM)">500</text><text x="900" y="174.3" font-size="11" fill="#000" clip-path="url(#cpM)">0</text><text x="900" y="210.3" font-size="11" fill="#000" clip-path="url(#cpM)">-500</text><rect x="892" y="602.7" width="3" height="1" fill="#000"/><rect x="892" y="591.3" width="3" height="1" fill="#000"/><rect x="892" y="580.0" width="6" height="1" fill="#000"/><rect x="892" y="568.7" width="3" height="1" fill="#000"/><rect x="892" y="557.3" width="3" height="1" fill="#000"/><rect x="892" y="546.0" width="3" height="1" fill="#000"/><rect x="892" y="534.7" width="3" height="1" fill="#000"/><rect x="892" y="523.3" width="6" height="1" fill="#000"/><rect x="892" y="512.0" width="3" height="1" fill="#000"/><rect x="892" y="500.7" width="3" height="1" fill="#000"/><rect x="892" y="489.3" width="3" height="1" fill="#000"/><rect x="892" y="478.0" width="3" height="1" fill="#000"/><rect x="892" y="466.7" width="6" height="1" fill="#000"/><rect x="892" y="455.3" width="3" height="1" fill="#000"/><rect x="892" y="444.0" width="3" height="1" fill="#000"/><rect x="892" y="432.7" width="3" height="1" fill="#000"/><rect x="892" y="421.3" width="3" height="1" fill="#000"/><rect x="892" y="410.0" width="3" height="1" fill="#000"/><rect x="892" y="398.7" width="3" height="1" fill="#000"/><rect x="892" y="387.3" width="3" height="1" fill="#000"/><rect x="892" y="376.0" width="3" height="1" fill="#000"/><rect x="892" y="364.7" width="3" height="1" fill="#000"/><rect x="892" y="353.3" width="6" height="1" fill="#000"/><rect x="892" y="342.0" width="3" height="1" fill="#000"/><rect x="892" y="330.7" width="3" height="1" fill="#000"/><rect x="892" y="319.3" width="3" height="1" fill="#000"/><rect x="892" y="308.0" width="3" height="1" fill="#000"/><rect x="892" y="296.7" width="6" height="1" fill="#000"/><rect x="892" y="285.3" width="3" height="1" fill="#000"/><rect x="892" y="274.0" width="3" height="1" fill="#000"/><rect x="892" y="262.7" width="3" height="1" fill="#000"/><rect x="892" y="251.3" width="3" height="1" fill="#000"/><rect x="892" y="240.0" width="6" height="1" fill="#000"/><text x="899.5" y="244.5" font-size="11" fill="#000" clip-path="url(#cpP)">13500.00</text><text x="899.5" y="301.1665" font-size="11" fill="#000" clip-path="url(#cpP)">13000.00</text><text x="899.5" y="357.83299999999997" font-size="11" fill="#000" clip-path="url(#cpP)">12500.00</text><text x="899.5" y="471.166" font-size="11" fill="#000" clip-path="url(#cpP)">11500.00</text><text x="899.5" y="527.8325" font-size="11" fill="#000" clip-path="url(#cpP)">11000.00</text><text x="899.5" y="584.499" font-size="11" fill="#000" clip-path="url(#cpP)">10500.00</text><rect x="892" y="712.4" width="3" height="1" fill="#000"/><rect x="892" y="702.1" width="6" height="1" fill="#000"/><rect x="892" y="691.8" width="3" height="1" fill="#000"/><rect x="892" y="681.5" width="6" height="1" fill="#000"/><rect x="892" y="671.2" width="3" height="1" fill="#000"/><rect x="892" y="660.9" width="6" height="1" fill="#000"/><rect x="892" y="650.6" width="3" height="1" fill="#000"/><rect x="892" y="640.3" width="6" height="1" fill="#000"/><rect x="892" y="630.0" width="3" height="1" fill="#000"/><rect x="892" y="619.7" width="6" height="1" fill="#000"/><text x="900" y="644.8000000000001" font-size="11" fill="#000" clip-path="url(#cpV)">400000</text><text x="900" y="665.4000000000001" font-size="11" fill="#000" clip-path="url(#cpV)">300000</text><text x="900" y="686.0" font-size="11" fill="#000" clip-path="url(#cpV)">200000</text><text x="900" y="706.6" font-size="11" fill="#000" clip-path="url(#cpV)">100000</text><rect x="897.5" y="708.5" width="30" height="12" fill="none" stroke="#000" stroke-width="1"/><text x="899" y="718.5" font-size="11" fill="#000">*1000</text><rect x="895" y="389" width="52" height="14" fill="#7b7bef"/><text x="898" y="400" font-size="11" fill="#fff">12,118.57</text><text x="905" y="414" font-size="11" fill="#0000ff">-2.22%</text><rect x="8" y="241" width="8" height="3" rx="1" fill="#ff0000"/><rect x="8" y="624" width="8" height="3" rx="1" fill="#ff0000"/><rect x="54" y="724" width="1" height="5" fill="#000"/><text x="55" y="740" font-size="11" fill="#000">8</text><rect x="142" y="724" width="1" height="5" fill="#000"/><text x="143" y="740" font-size="11" fill="#000">9</text><rect x="223" y="724" width="1" height="5" fill="#000"/><text x="224" y="740" font-size="11" fill="#000">10</text><rect x="305" y="724" width="1" height="5" fill="#000"/><text x="306" y="740" font-size="11" fill="#000">11</text><rect x="386" y="724" width="1" height="5" fill="#000"/><text x="387" y="740" font-size="11" fill="#000">12</text><rect x="544" y="724" width="1" height="5" fill="#000"/><text x="545" y="740" font-size="11" fill="#000">2</text><rect x="621" y="724" width="1" height="5" fill="#000"/><text x="622" y="740" font-size="11" fill="#000">3</text><rect x="706" y="724" width="1" height="5" fill="#000"/><text x="707" y="740" font-size="11" fill="#000">4</text><rect x="783" y="724" width="1" height="5" fill="#000"/><text x="784" y="740" font-size="11" fill="#000">5</text><rect x="868" y="724" width="1" height="5" fill="#000"/><text x="869" y="740" font-size="11" fill="#000">6</text><rect x="466" y="724" width="1" height="19" fill="#000"/><text x="467" y="740" font-size="11" fill="#000">2012/01</text><text x="1" y="740" font-size="11" fill="#000">2011/07</text>
</svg></body></html>
